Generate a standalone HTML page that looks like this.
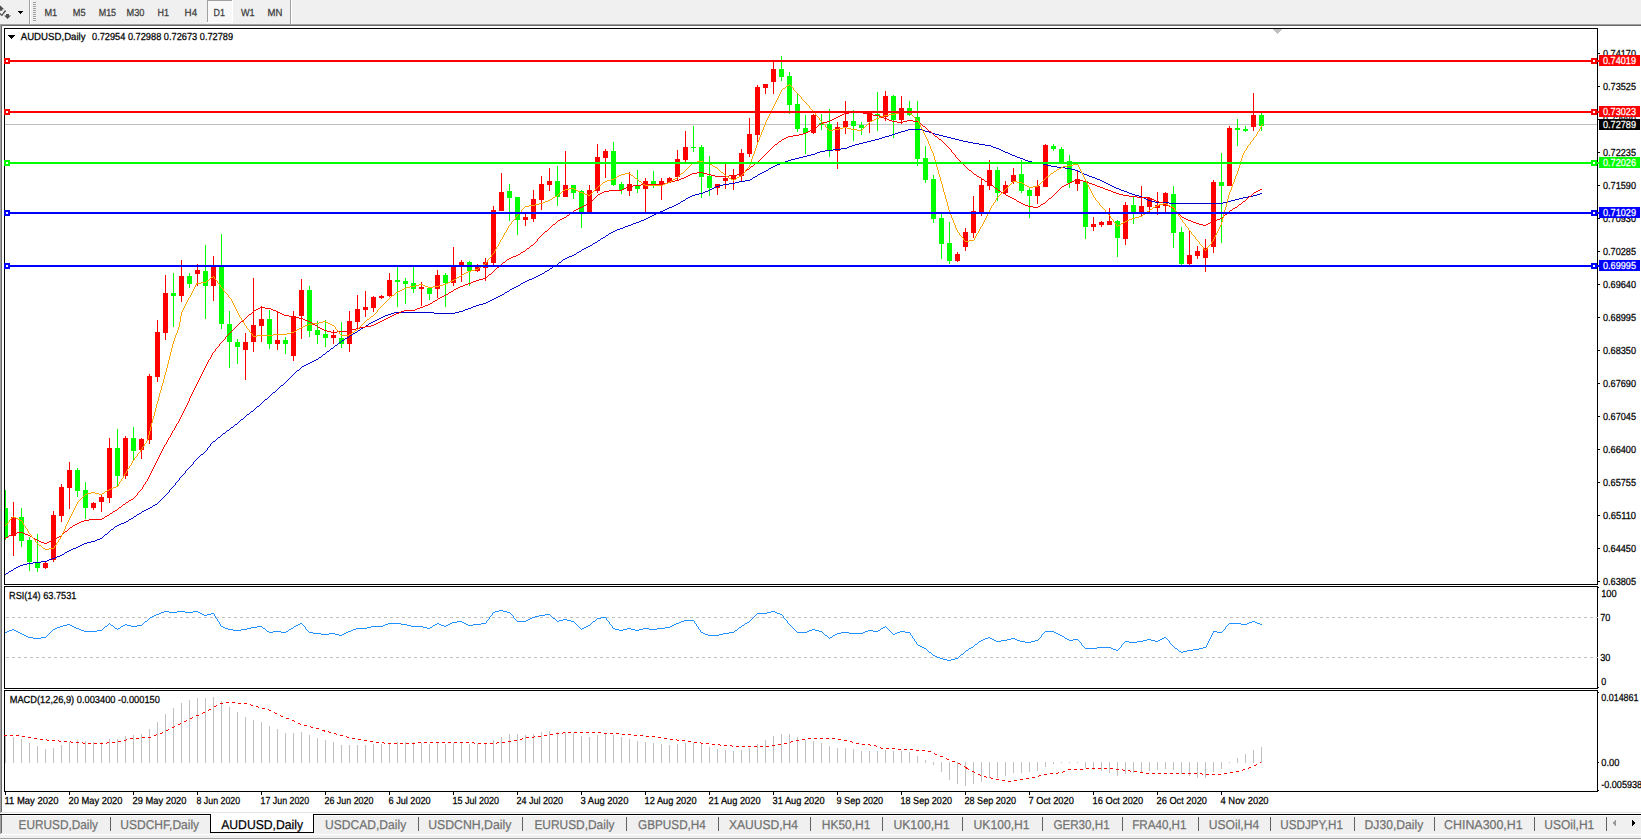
<!DOCTYPE html>
<html><head><meta charset="utf-8"><title>AUDUSD,Daily</title>
<style>html,body{margin:0;padding:0;background:#fff;overflow:hidden}svg{display:block}text{font-family:"Liberation Sans",sans-serif;white-space:pre;text-rendering:geometricPrecision}</style></head>
<body>
<svg width="1641" height="840" viewBox="0 0 1641 840" font-family="'Liberation Sans', sans-serif" shape-rendering="crispEdges">
<rect x="0" y="0" width="1641" height="840" fill="#fff"/>
<rect x="0" y="0" width="1641" height="24" fill="#f0f0f0"/>
<rect x="0" y="24" width="1641" height="1" fill="#a0a0a0"/>
<rect x="0" y="25" width="1641" height="1" fill="#696969"/>
<rect x="0" y="24" width="1" height="789" fill="#a0a0a0"/>
<rect x="1" y="25" width="1" height="787" fill="#696969"/>
<rect x="29" y="0" width="1" height="24" fill="#a0a0a0"/>
<rect x="30" y="0" width="1" height="24" fill="#fff"/>
<rect x="33" y="2" width="3" height="1" fill="#a0a0a0"/>
<rect x="33" y="4" width="3" height="1" fill="#a0a0a0"/>
<rect x="33" y="6" width="3" height="1" fill="#a0a0a0"/>
<rect x="33" y="8" width="3" height="1" fill="#a0a0a0"/>
<rect x="33" y="10" width="3" height="1" fill="#a0a0a0"/>
<rect x="33" y="12" width="3" height="1" fill="#a0a0a0"/>
<rect x="33" y="14" width="3" height="1" fill="#a0a0a0"/>
<rect x="33" y="16" width="3" height="1" fill="#a0a0a0"/>
<rect x="33" y="18" width="3" height="1" fill="#a0a0a0"/>
<rect x="33" y="20" width="3" height="1" fill="#a0a0a0"/>
<g fill="#505050" shape-rendering="auto"><polygon points="0,5.3 4.2,9.2 2.3,9.2 2.3,10.8 0,10.8"/><polygon points="5.0,10.0 6.2,11.0 1.9,16.2 0,14.4 0,12.8 1.7,14.4"/><polygon points="6,14 9,14 9,15.4 11,15.4 7.5,19 4,15.4 6,15.4"/></g>
<rect x="18" y="11" width="5" height="1" fill="#000"/>
<rect x="19" y="12" width="3" height="1" fill="#000"/>
<rect x="20" y="13" width="1" height="1" fill="#000"/>
<rect x="207" y="0" width="26" height="22" fill="#f8f8f8"/>
<rect x="207" y="0" width="25" height="1" fill="#a0a0a0"/>
<rect x="207" y="0" width="1" height="22" fill="#a0a0a0"/>
<rect x="232" y="0" width="1" height="23" fill="#fff"/>
<rect x="207" y="22" width="26" height="1" fill="#fff"/>
<text x="44.4" y="15.6" font-size="10.2" fill="#3c3c3c" stroke="#3c3c3c" stroke-width="0.25" textLength="12.8" lengthAdjust="spacingAndGlyphs">M1</text>
<text x="72.8" y="15.6" font-size="10.2" fill="#3c3c3c" stroke="#3c3c3c" stroke-width="0.25" textLength="12.8" lengthAdjust="spacingAndGlyphs">M5</text>
<text x="98.7" y="15.6" font-size="10.2" fill="#3c3c3c" stroke="#3c3c3c" stroke-width="0.25" textLength="17.4" lengthAdjust="spacingAndGlyphs">M15</text>
<text x="126.5" y="15.6" font-size="10.2" fill="#3c3c3c" stroke="#3c3c3c" stroke-width="0.25" textLength="17.9" lengthAdjust="spacingAndGlyphs">M30</text>
<text x="157.6" y="15.6" font-size="10.2" fill="#3c3c3c" stroke="#3c3c3c" stroke-width="0.25" textLength="11.5" lengthAdjust="spacingAndGlyphs">H1</text>
<text x="184.6" y="15.6" font-size="10.2" fill="#3c3c3c" stroke="#3c3c3c" stroke-width="0.25" textLength="12.5" lengthAdjust="spacingAndGlyphs">H4</text>
<text x="213.5" y="15.6" font-size="10.2" fill="#3c3c3c" stroke="#3c3c3c" stroke-width="0.25" textLength="11.4" lengthAdjust="spacingAndGlyphs">D1</text>
<text x="241" y="15.6" font-size="10.2" fill="#3c3c3c" stroke="#3c3c3c" stroke-width="0.25" textLength="13.7" lengthAdjust="spacingAndGlyphs">W1</text>
<text x="267.5" y="15.6" font-size="10.2" fill="#3c3c3c" stroke="#3c3c3c" stroke-width="0.25" textLength="14.9" lengthAdjust="spacingAndGlyphs">MN</text>
<rect x="290" y="0" width="1" height="24" fill="#a0a0a0"/>
<rect x="291" y="0" width="1" height="24" fill="#fff"/>
<rect x="4" y="28" width="1594" height="1" fill="#000"/>
<rect x="4" y="584" width="1594" height="1" fill="#000"/>
<rect x="4" y="28" width="1" height="557" fill="#000"/>
<rect x="1597" y="28" width="1" height="557" fill="#000"/>
<rect x="4" y="586" width="1594" height="1" fill="#000"/>
<rect x="4" y="688" width="1594" height="1" fill="#000"/>
<rect x="4" y="586" width="1" height="103" fill="#000"/>
<rect x="1597" y="586" width="1" height="103" fill="#000"/>
<rect x="4" y="690" width="1594" height="1" fill="#000"/>
<rect x="4" y="791" width="1594" height="1" fill="#000"/>
<rect x="4" y="690" width="1" height="102" fill="#000"/>
<rect x="1597" y="690" width="1" height="102" fill="#000"/>
<defs><clipPath id="cm"><rect x="5" y="29" width="1592" height="555"/></clipPath></defs>
<rect x="8" y="35" width="7" height="1" fill="#000"/>
<rect x="9" y="36" width="5" height="1" fill="#000"/>
<rect x="10" y="37" width="3" height="1" fill="#000"/>
<rect x="11" y="38" width="1" height="1" fill="#000"/>
<text x="20.7" y="40" font-size="10.2" fill="#000" stroke="#000" stroke-width="0.25" textLength="64.9" lengthAdjust="spacingAndGlyphs">AUDUSD,Daily</text>
<text x="92" y="40" font-size="10.2" fill="#000" stroke="#000" stroke-width="0.25" textLength="141.1" lengthAdjust="spacingAndGlyphs">0.72954 0.72988 0.72673 0.72789</text>
<rect x="1273" y="29" width="9" height="1" fill="#c0c0c0"/>
<rect x="1274" y="30" width="7" height="1" fill="#c0c0c0"/>
<rect x="1275" y="31" width="5" height="1" fill="#c0c0c0"/>
<rect x="1276" y="32" width="3" height="1" fill="#c0c0c0"/>
<rect x="1277" y="33" width="1" height="1" fill="#c0c0c0"/>
<rect x="1598" y="53" width="2" height="1" fill="#000"/>
<text x="1603" y="57" font-size="10.2" fill="#000" stroke="#000" stroke-width="0.25" textLength="33" lengthAdjust="spacingAndGlyphs">0.74170</text>
<rect x="1598" y="86" width="2" height="1" fill="#000"/>
<text x="1603" y="90" font-size="10.2" fill="#000" stroke="#000" stroke-width="0.25" textLength="33" lengthAdjust="spacingAndGlyphs">0.73525</text>
<rect x="1598" y="119" width="2" height="1" fill="#000"/>
<text x="1603" y="123" font-size="10.2" fill="#000" stroke="#000" stroke-width="0.25" textLength="33" lengthAdjust="spacingAndGlyphs">0.72880</text>
<rect x="1598" y="152" width="2" height="1" fill="#000"/>
<text x="1603" y="156" font-size="10.2" fill="#000" stroke="#000" stroke-width="0.25" textLength="33" lengthAdjust="spacingAndGlyphs">0.72235</text>
<rect x="1598" y="185" width="2" height="1" fill="#000"/>
<text x="1603" y="189" font-size="10.2" fill="#000" stroke="#000" stroke-width="0.25" textLength="33" lengthAdjust="spacingAndGlyphs">0.71590</text>
<rect x="1598" y="218" width="2" height="1" fill="#000"/>
<text x="1603" y="222" font-size="10.2" fill="#000" stroke="#000" stroke-width="0.25" textLength="33" lengthAdjust="spacingAndGlyphs">0.70930</text>
<rect x="1598" y="251" width="2" height="1" fill="#000"/>
<text x="1603" y="255" font-size="10.2" fill="#000" stroke="#000" stroke-width="0.25" textLength="33" lengthAdjust="spacingAndGlyphs">0.70285</text>
<rect x="1598" y="284" width="2" height="1" fill="#000"/>
<text x="1603" y="288" font-size="10.2" fill="#000" stroke="#000" stroke-width="0.25" textLength="33" lengthAdjust="spacingAndGlyphs">0.69640</text>
<rect x="1598" y="317" width="2" height="1" fill="#000"/>
<text x="1603" y="321" font-size="10.2" fill="#000" stroke="#000" stroke-width="0.25" textLength="33" lengthAdjust="spacingAndGlyphs">0.68995</text>
<rect x="1598" y="350" width="2" height="1" fill="#000"/>
<text x="1603" y="354" font-size="10.2" fill="#000" stroke="#000" stroke-width="0.25" textLength="33" lengthAdjust="spacingAndGlyphs">0.68350</text>
<rect x="1598" y="383" width="2" height="1" fill="#000"/>
<text x="1603" y="387" font-size="10.2" fill="#000" stroke="#000" stroke-width="0.25" textLength="33" lengthAdjust="spacingAndGlyphs">0.67690</text>
<rect x="1598" y="416" width="2" height="1" fill="#000"/>
<text x="1603" y="420" font-size="10.2" fill="#000" stroke="#000" stroke-width="0.25" textLength="33" lengthAdjust="spacingAndGlyphs">0.67045</text>
<rect x="1598" y="449" width="2" height="1" fill="#000"/>
<text x="1603" y="453" font-size="10.2" fill="#000" stroke="#000" stroke-width="0.25" textLength="33" lengthAdjust="spacingAndGlyphs">0.66400</text>
<rect x="1598" y="482" width="2" height="1" fill="#000"/>
<text x="1603" y="486" font-size="10.2" fill="#000" stroke="#000" stroke-width="0.25" textLength="33" lengthAdjust="spacingAndGlyphs">0.65755</text>
<rect x="1598" y="515" width="2" height="1" fill="#000"/>
<text x="1603" y="519" font-size="10.2" fill="#000" stroke="#000" stroke-width="0.25" textLength="33" lengthAdjust="spacingAndGlyphs">0.65110</text>
<rect x="1598" y="548" width="2" height="1" fill="#000"/>
<text x="1603" y="552" font-size="10.2" fill="#000" stroke="#000" stroke-width="0.25" textLength="33" lengthAdjust="spacingAndGlyphs">0.64450</text>
<rect x="1598" y="581" width="2" height="1" fill="#000"/>
<text x="1603" y="585" font-size="10.2" fill="#000" stroke="#000" stroke-width="0.25" textLength="33" lengthAdjust="spacingAndGlyphs">0.63805</text>
<g clip-path="url(#cm)">
<rect x="5" y="124" width="1592" height="1" fill="#c0c0c0"/>
<rect x="5" y="490" width="1" height="50" fill="#0f0"/>
<rect x="3" y="508" width="5" height="29" fill="#0f0"/>
<rect x="13" y="502" width="1" height="54" fill="#f00"/>
<rect x="11" y="517" width="5" height="19" fill="#f00"/>
<rect x="21" y="508" width="1" height="39" fill="#0f0"/>
<rect x="19" y="517" width="5" height="24" fill="#0f0"/>
<rect x="29" y="537" width="1" height="34" fill="#0f0"/>
<rect x="27" y="540" width="5" height="22" fill="#0f0"/>
<rect x="37" y="534" width="1" height="38" fill="#0f0"/>
<rect x="35" y="562" width="5" height="6" fill="#0f0"/>
<rect x="45" y="562" width="1" height="7" fill="#f00"/>
<rect x="43" y="563" width="5" height="5" fill="#f00"/>
<rect x="53" y="511" width="1" height="51" fill="#f00"/>
<rect x="51" y="515" width="5" height="45" fill="#f00"/>
<rect x="61" y="484" width="1" height="38" fill="#f00"/>
<rect x="59" y="487" width="5" height="29" fill="#f00"/>
<rect x="69" y="462" width="1" height="47" fill="#f00"/>
<rect x="67" y="470" width="5" height="18" fill="#f00"/>
<rect x="77" y="468" width="1" height="29" fill="#0f0"/>
<rect x="75" y="470" width="5" height="21" fill="#0f0"/>
<rect x="85" y="482" width="1" height="37" fill="#0f0"/>
<rect x="83" y="490" width="5" height="18" fill="#0f0"/>
<rect x="93" y="502" width="1" height="8" fill="#f00"/>
<rect x="91" y="503" width="5" height="5" fill="#f00"/>
<rect x="101" y="495" width="1" height="17" fill="#f00"/>
<rect x="99" y="497" width="5" height="5" fill="#f00"/>
<rect x="109" y="438" width="1" height="65" fill="#f00"/>
<rect x="107" y="448" width="5" height="50" fill="#f00"/>
<rect x="117" y="429" width="1" height="57" fill="#0f0"/>
<rect x="115" y="448" width="5" height="28" fill="#0f0"/>
<rect x="125" y="436" width="1" height="43" fill="#f00"/>
<rect x="123" y="438" width="5" height="38" fill="#f00"/>
<rect x="133" y="427" width="1" height="34" fill="#0f0"/>
<rect x="131" y="438" width="5" height="13" fill="#0f0"/>
<rect x="141" y="438" width="1" height="21" fill="#f00"/>
<rect x="139" y="439" width="5" height="11" fill="#f00"/>
<rect x="149" y="374" width="1" height="70" fill="#f00"/>
<rect x="147" y="376" width="5" height="64" fill="#f00"/>
<rect x="157" y="320" width="1" height="62" fill="#f00"/>
<rect x="155" y="332" width="5" height="45" fill="#f00"/>
<rect x="165" y="275" width="1" height="65" fill="#f00"/>
<rect x="163" y="293" width="5" height="40" fill="#f00"/>
<rect x="173" y="273" width="1" height="54" fill="#0f0"/>
<rect x="171" y="293" width="5" height="3" fill="#0f0"/>
<rect x="181" y="260" width="1" height="42" fill="#f00"/>
<rect x="179" y="276" width="5" height="20" fill="#f00"/>
<rect x="189" y="273" width="1" height="15" fill="#0f0"/>
<rect x="187" y="276" width="5" height="8" fill="#0f0"/>
<rect x="197" y="264" width="1" height="22" fill="#f00"/>
<rect x="195" y="270" width="5" height="4" fill="#f00"/>
<rect x="205" y="245" width="1" height="74" fill="#0f0"/>
<rect x="203" y="271" width="5" height="15" fill="#0f0"/>
<rect x="213" y="256" width="1" height="45" fill="#f00"/>
<rect x="211" y="267" width="5" height="19" fill="#f00"/>
<rect x="221" y="234" width="1" height="95" fill="#0f0"/>
<rect x="219" y="267" width="5" height="57" fill="#0f0"/>
<rect x="229" y="311" width="1" height="57" fill="#0f0"/>
<rect x="227" y="324" width="5" height="18" fill="#0f0"/>
<rect x="237" y="339" width="1" height="25" fill="#0f0"/>
<rect x="235" y="342" width="5" height="5" fill="#0f0"/>
<rect x="245" y="333" width="1" height="47" fill="#f00"/>
<rect x="243" y="342" width="5" height="8" fill="#f00"/>
<rect x="253" y="278" width="1" height="74" fill="#f00"/>
<rect x="251" y="325" width="5" height="17" fill="#f00"/>
<rect x="261" y="306" width="1" height="36" fill="#f00"/>
<rect x="259" y="319" width="5" height="7" fill="#f00"/>
<rect x="269" y="310" width="1" height="39" fill="#0f0"/>
<rect x="267" y="319" width="5" height="25" fill="#0f0"/>
<rect x="277" y="312" width="1" height="38" fill="#f00"/>
<rect x="275" y="340" width="5" height="4" fill="#f00"/>
<rect x="285" y="337" width="1" height="17" fill="#0f0"/>
<rect x="283" y="340" width="5" height="4" fill="#0f0"/>
<rect x="293" y="311" width="1" height="50" fill="#f00"/>
<rect x="291" y="316" width="5" height="40" fill="#f00"/>
<rect x="301" y="279" width="1" height="60" fill="#f00"/>
<rect x="299" y="290" width="5" height="26" fill="#f00"/>
<rect x="309" y="286" width="1" height="51" fill="#0f0"/>
<rect x="307" y="290" width="5" height="41" fill="#0f0"/>
<rect x="317" y="321" width="1" height="23" fill="#0f0"/>
<rect x="315" y="330" width="5" height="5" fill="#0f0"/>
<rect x="325" y="320" width="1" height="27" fill="#0f0"/>
<rect x="323" y="334" width="5" height="4" fill="#0f0"/>
<rect x="333" y="330" width="1" height="14" fill="#f00"/>
<rect x="331" y="335" width="5" height="3" fill="#f00"/>
<rect x="341" y="322" width="1" height="26" fill="#0f0"/>
<rect x="339" y="338" width="5" height="6" fill="#0f0"/>
<rect x="349" y="311" width="1" height="41" fill="#f00"/>
<rect x="347" y="321" width="5" height="23" fill="#f00"/>
<rect x="357" y="295" width="1" height="33" fill="#f00"/>
<rect x="355" y="309" width="5" height="13" fill="#f00"/>
<rect x="365" y="291" width="1" height="26" fill="#f00"/>
<rect x="363" y="307" width="5" height="3" fill="#f00"/>
<rect x="373" y="296" width="1" height="16" fill="#f00"/>
<rect x="371" y="297" width="5" height="11" fill="#f00"/>
<rect x="381" y="295" width="1" height="4" fill="#f00"/>
<rect x="379" y="296" width="5" height="2" fill="#f00"/>
<rect x="389" y="273" width="1" height="24" fill="#f00"/>
<rect x="387" y="280" width="5" height="16" fill="#f00"/>
<rect x="397" y="267" width="1" height="40" fill="#0f0"/>
<rect x="395" y="280" width="5" height="2" fill="#0f0"/>
<rect x="405" y="278" width="1" height="26" fill="#0f0"/>
<rect x="403" y="281" width="5" height="3" fill="#0f0"/>
<rect x="413" y="267" width="1" height="26" fill="#0f0"/>
<rect x="411" y="283" width="5" height="6" fill="#0f0"/>
<rect x="421" y="282" width="1" height="24" fill="#f00"/>
<rect x="419" y="287" width="5" height="2" fill="#f00"/>
<rect x="429" y="287" width="1" height="13" fill="#0f0"/>
<rect x="427" y="288" width="5" height="6" fill="#0f0"/>
<rect x="437" y="270" width="1" height="28" fill="#f00"/>
<rect x="435" y="275" width="5" height="14" fill="#f00"/>
<rect x="445" y="273" width="1" height="34" fill="#0f0"/>
<rect x="443" y="275" width="5" height="8" fill="#0f0"/>
<rect x="453" y="247" width="1" height="39" fill="#f00"/>
<rect x="451" y="266" width="5" height="17" fill="#f00"/>
<rect x="461" y="260" width="1" height="22" fill="#f00"/>
<rect x="459" y="262" width="5" height="4" fill="#f00"/>
<rect x="469" y="261" width="1" height="25" fill="#0f0"/>
<rect x="467" y="262" width="5" height="9" fill="#0f0"/>
<rect x="477" y="264" width="1" height="8" fill="#f00"/>
<rect x="475" y="267" width="5" height="4" fill="#f00"/>
<rect x="485" y="258" width="1" height="23" fill="#f00"/>
<rect x="483" y="262" width="5" height="6" fill="#f00"/>
<rect x="493" y="206" width="1" height="59" fill="#f00"/>
<rect x="491" y="210" width="5" height="53" fill="#f00"/>
<rect x="501" y="173" width="1" height="38" fill="#f00"/>
<rect x="499" y="192" width="5" height="19" fill="#f00"/>
<rect x="509" y="184" width="1" height="37" fill="#0f0"/>
<rect x="507" y="191" width="5" height="7" fill="#0f0"/>
<rect x="517" y="197" width="1" height="38" fill="#0f0"/>
<rect x="515" y="197" width="5" height="23" fill="#0f0"/>
<rect x="525" y="214" width="1" height="12" fill="#f00"/>
<rect x="523" y="217" width="5" height="3" fill="#f00"/>
<rect x="533" y="190" width="1" height="32" fill="#f00"/>
<rect x="531" y="199" width="5" height="20" fill="#f00"/>
<rect x="541" y="176" width="1" height="34" fill="#f00"/>
<rect x="539" y="184" width="5" height="16" fill="#f00"/>
<rect x="549" y="168" width="1" height="23" fill="#f00"/>
<rect x="547" y="181" width="5" height="4" fill="#f00"/>
<rect x="557" y="166" width="1" height="40" fill="#0f0"/>
<rect x="555" y="181" width="5" height="16" fill="#0f0"/>
<rect x="565" y="151" width="1" height="46" fill="#f00"/>
<rect x="563" y="185" width="5" height="12" fill="#f00"/>
<rect x="573" y="185" width="1" height="14" fill="#0f0"/>
<rect x="571" y="185" width="5" height="8" fill="#0f0"/>
<rect x="581" y="190" width="1" height="38" fill="#0f0"/>
<rect x="579" y="191" width="5" height="21" fill="#0f0"/>
<rect x="589" y="185" width="1" height="27" fill="#f00"/>
<rect x="587" y="190" width="5" height="22" fill="#f00"/>
<rect x="597" y="144" width="1" height="49" fill="#f00"/>
<rect x="595" y="157" width="5" height="34" fill="#f00"/>
<rect x="605" y="149" width="1" height="29" fill="#f00"/>
<rect x="603" y="151" width="5" height="7" fill="#f00"/>
<rect x="613" y="142" width="1" height="44" fill="#0f0"/>
<rect x="611" y="151" width="5" height="34" fill="#0f0"/>
<rect x="621" y="182" width="1" height="12" fill="#0f0"/>
<rect x="619" y="184" width="5" height="6" fill="#0f0"/>
<rect x="629" y="172" width="1" height="24" fill="#f00"/>
<rect x="627" y="184" width="5" height="7" fill="#f00"/>
<rect x="637" y="170" width="1" height="23" fill="#0f0"/>
<rect x="635" y="185" width="5" height="4" fill="#0f0"/>
<rect x="645" y="178" width="1" height="34" fill="#f00"/>
<rect x="643" y="181" width="5" height="8" fill="#f00"/>
<rect x="653" y="171" width="1" height="17" fill="#0f0"/>
<rect x="651" y="181" width="5" height="3" fill="#0f0"/>
<rect x="661" y="178" width="1" height="22" fill="#f00"/>
<rect x="659" y="181" width="5" height="3" fill="#f00"/>
<rect x="669" y="177" width="1" height="5" fill="#f00"/>
<rect x="667" y="178" width="5" height="4" fill="#f00"/>
<rect x="677" y="150" width="1" height="30" fill="#f00"/>
<rect x="675" y="159" width="5" height="18" fill="#f00"/>
<rect x="685" y="131" width="1" height="31" fill="#f00"/>
<rect x="683" y="147" width="5" height="13" fill="#f00"/>
<rect x="693" y="126" width="1" height="26" fill="#0f0"/>
<rect x="691" y="147" width="5" height="1" fill="#0f0"/>
<rect x="701" y="145" width="1" height="53" fill="#0f0"/>
<rect x="699" y="147" width="5" height="30" fill="#0f0"/>
<rect x="709" y="156" width="1" height="40" fill="#0f0"/>
<rect x="707" y="176" width="5" height="12" fill="#0f0"/>
<rect x="717" y="184" width="1" height="11" fill="#f00"/>
<rect x="715" y="184" width="5" height="4" fill="#f00"/>
<rect x="725" y="164" width="1" height="25" fill="#f00"/>
<rect x="723" y="178" width="5" height="3" fill="#f00"/>
<rect x="733" y="169" width="1" height="21" fill="#f00"/>
<rect x="731" y="175" width="5" height="4" fill="#f00"/>
<rect x="741" y="149" width="1" height="32" fill="#f00"/>
<rect x="739" y="153" width="5" height="23" fill="#f00"/>
<rect x="749" y="118" width="1" height="39" fill="#f00"/>
<rect x="747" y="134" width="5" height="20" fill="#f00"/>
<rect x="757" y="85" width="1" height="59" fill="#f00"/>
<rect x="755" y="87" width="5" height="48" fill="#f00"/>
<rect x="765" y="84" width="1" height="10" fill="#f00"/>
<rect x="763" y="84" width="5" height="4" fill="#f00"/>
<rect x="773" y="62" width="1" height="32" fill="#f00"/>
<rect x="771" y="69" width="5" height="13" fill="#f00"/>
<rect x="781" y="56" width="1" height="25" fill="#0f0"/>
<rect x="779" y="69" width="5" height="8" fill="#0f0"/>
<rect x="789" y="72" width="1" height="42" fill="#0f0"/>
<rect x="787" y="76" width="5" height="29" fill="#0f0"/>
<rect x="797" y="93" width="1" height="39" fill="#0f0"/>
<rect x="795" y="104" width="5" height="25" fill="#0f0"/>
<rect x="805" y="115" width="1" height="39" fill="#0f0"/>
<rect x="803" y="128" width="5" height="5" fill="#0f0"/>
<rect x="813" y="114" width="1" height="20" fill="#f00"/>
<rect x="811" y="115" width="5" height="18" fill="#f00"/>
<rect x="821" y="114" width="1" height="16" fill="#0f0"/>
<rect x="819" y="123" width="5" height="2" fill="#0f0"/>
<rect x="829" y="109" width="1" height="48" fill="#0f0"/>
<rect x="827" y="124" width="5" height="26" fill="#0f0"/>
<rect x="837" y="122" width="1" height="47" fill="#f00"/>
<rect x="835" y="127" width="5" height="24" fill="#f00"/>
<rect x="845" y="101" width="1" height="33" fill="#f00"/>
<rect x="843" y="121" width="5" height="6" fill="#f00"/>
<rect x="853" y="110" width="1" height="31" fill="#0f0"/>
<rect x="851" y="121" width="5" height="5" fill="#0f0"/>
<rect x="861" y="122" width="1" height="13" fill="#0f0"/>
<rect x="859" y="125" width="5" height="3" fill="#0f0"/>
<rect x="869" y="112" width="1" height="21" fill="#f00"/>
<rect x="867" y="113" width="5" height="9" fill="#f00"/>
<rect x="877" y="92" width="1" height="39" fill="#0f0"/>
<rect x="875" y="114" width="5" height="2" fill="#0f0"/>
<rect x="885" y="91" width="1" height="30" fill="#f00"/>
<rect x="883" y="96" width="5" height="21" fill="#f00"/>
<rect x="893" y="95" width="1" height="43" fill="#0f0"/>
<rect x="891" y="96" width="5" height="24" fill="#0f0"/>
<rect x="901" y="96" width="1" height="28" fill="#f00"/>
<rect x="899" y="108" width="5" height="12" fill="#f00"/>
<rect x="909" y="101" width="1" height="15" fill="#0f0"/>
<rect x="907" y="108" width="5" height="7" fill="#0f0"/>
<rect x="917" y="101" width="1" height="65" fill="#0f0"/>
<rect x="915" y="117" width="5" height="42" fill="#0f0"/>
<rect x="925" y="146" width="1" height="37" fill="#0f0"/>
<rect x="923" y="158" width="5" height="22" fill="#0f0"/>
<rect x="933" y="175" width="1" height="48" fill="#0f0"/>
<rect x="931" y="179" width="5" height="40" fill="#0f0"/>
<rect x="941" y="214" width="1" height="45" fill="#0f0"/>
<rect x="939" y="218" width="5" height="26" fill="#0f0"/>
<rect x="949" y="222" width="1" height="42" fill="#0f0"/>
<rect x="947" y="243" width="5" height="18" fill="#0f0"/>
<rect x="957" y="252" width="1" height="10" fill="#f00"/>
<rect x="955" y="254" width="5" height="7" fill="#f00"/>
<rect x="965" y="228" width="1" height="23" fill="#f00"/>
<rect x="963" y="232" width="5" height="15" fill="#f00"/>
<rect x="973" y="196" width="1" height="42" fill="#f00"/>
<rect x="971" y="211" width="5" height="22" fill="#f00"/>
<rect x="981" y="178" width="1" height="38" fill="#f00"/>
<rect x="979" y="185" width="5" height="27" fill="#f00"/>
<rect x="989" y="160" width="1" height="30" fill="#f00"/>
<rect x="987" y="170" width="5" height="16" fill="#f00"/>
<rect x="997" y="167" width="1" height="34" fill="#0f0"/>
<rect x="995" y="170" width="5" height="23" fill="#0f0"/>
<rect x="1005" y="181" width="1" height="13" fill="#f00"/>
<rect x="1003" y="185" width="5" height="8" fill="#f00"/>
<rect x="1013" y="168" width="1" height="16" fill="#f00"/>
<rect x="1011" y="175" width="5" height="7" fill="#f00"/>
<rect x="1021" y="160" width="1" height="33" fill="#0f0"/>
<rect x="1019" y="174" width="5" height="17" fill="#0f0"/>
<rect x="1029" y="188" width="1" height="30" fill="#0f0"/>
<rect x="1027" y="190" width="5" height="6" fill="#0f0"/>
<rect x="1037" y="180" width="1" height="24" fill="#f00"/>
<rect x="1035" y="186" width="5" height="10" fill="#f00"/>
<rect x="1045" y="144" width="1" height="43" fill="#f00"/>
<rect x="1043" y="145" width="5" height="42" fill="#f00"/>
<rect x="1053" y="144" width="1" height="7" fill="#0f0"/>
<rect x="1051" y="146" width="5" height="3" fill="#0f0"/>
<rect x="1061" y="147" width="1" height="16" fill="#0f0"/>
<rect x="1059" y="149" width="5" height="14" fill="#0f0"/>
<rect x="1069" y="155" width="1" height="33" fill="#0f0"/>
<rect x="1067" y="161" width="5" height="22" fill="#0f0"/>
<rect x="1077" y="170" width="1" height="21" fill="#f00"/>
<rect x="1075" y="179" width="5" height="5" fill="#f00"/>
<rect x="1085" y="181" width="1" height="58" fill="#0f0"/>
<rect x="1083" y="181" width="5" height="46" fill="#0f0"/>
<rect x="1093" y="217" width="1" height="14" fill="#f00"/>
<rect x="1091" y="224" width="5" height="3" fill="#f00"/>
<rect x="1101" y="221" width="1" height="6" fill="#f00"/>
<rect x="1099" y="222" width="5" height="3" fill="#f00"/>
<rect x="1109" y="208" width="1" height="17" fill="#f00"/>
<rect x="1107" y="221" width="5" height="4" fill="#f00"/>
<rect x="1117" y="220" width="1" height="37" fill="#0f0"/>
<rect x="1115" y="221" width="5" height="17" fill="#0f0"/>
<rect x="1125" y="202" width="1" height="43" fill="#f00"/>
<rect x="1123" y="205" width="5" height="34" fill="#f00"/>
<rect x="1133" y="197" width="1" height="27" fill="#0f0"/>
<rect x="1131" y="205" width="5" height="7" fill="#0f0"/>
<rect x="1141" y="186" width="1" height="30" fill="#f00"/>
<rect x="1139" y="206" width="5" height="6" fill="#f00"/>
<rect x="1149" y="197" width="1" height="15" fill="#f00"/>
<rect x="1147" y="198" width="5" height="9" fill="#f00"/>
<rect x="1157" y="192" width="1" height="23" fill="#f00"/>
<rect x="1155" y="205" width="5" height="3" fill="#f00"/>
<rect x="1165" y="192" width="1" height="20" fill="#f00"/>
<rect x="1163" y="193" width="5" height="13" fill="#f00"/>
<rect x="1173" y="186" width="1" height="62" fill="#0f0"/>
<rect x="1171" y="194" width="5" height="39" fill="#0f0"/>
<rect x="1181" y="227" width="1" height="38" fill="#0f0"/>
<rect x="1179" y="232" width="5" height="32" fill="#0f0"/>
<rect x="1189" y="231" width="1" height="34" fill="#f00"/>
<rect x="1187" y="255" width="5" height="9" fill="#f00"/>
<rect x="1197" y="246" width="1" height="13" fill="#f00"/>
<rect x="1195" y="251" width="5" height="5" fill="#f00"/>
<rect x="1205" y="239" width="1" height="33" fill="#f00"/>
<rect x="1203" y="248" width="5" height="10" fill="#f00"/>
<rect x="1213" y="180" width="1" height="73" fill="#f00"/>
<rect x="1211" y="182" width="5" height="65" fill="#f00"/>
<rect x="1221" y="153" width="1" height="90" fill="#0f0"/>
<rect x="1219" y="182" width="5" height="4" fill="#0f0"/>
<rect x="1229" y="126" width="1" height="60" fill="#f00"/>
<rect x="1227" y="128" width="5" height="58" fill="#f00"/>
<rect x="1237" y="119" width="1" height="27" fill="#0f0"/>
<rect x="1235" y="128" width="5" height="2" fill="#0f0"/>
<rect x="1245" y="126" width="1" height="6" fill="#0f0"/>
<rect x="1243" y="129" width="5" height="2" fill="#0f0"/>
<rect x="1253" y="93" width="1" height="38" fill="#f00"/>
<rect x="1251" y="115" width="5" height="12" fill="#f00"/>
<rect x="1261" y="113" width="1" height="18" fill="#0f0"/>
<rect x="1259" y="115" width="5" height="11" fill="#0f0"/>
<path d="M5 574h1v1h-1zM6 573h2v1h-2zM8 572h1v1h-1zM9 571h2v1h-2zM11 570h2v1h-2zM13 569h1v1h-1zM14 568h2v1h-2zM16 567h2v1h-2zM18 566h2v1h-2zM20 565h3v1h-3zM23 564h4v1h-4zM27 563h6v1h-6zM33 562h8v1h-8zM41 561h6v1h-6zM47 560h2v1h-2zM49 559h3v1h-3zM52 558h3v1h-3zM55 557h2v1h-2zM57 556h3v1h-3zM60 555h2v1h-2zM62 554h2v1h-2zM64 553h1v1h-1zM65 552h2v1h-2zM67 551h2v1h-2zM69 550h2v1h-2zM71 549h2v1h-2zM73 548h3v1h-3zM76 547h2v1h-2zM78 546h2v1h-2zM80 545h2v1h-2zM82 544h2v1h-2zM84 543h3v1h-3zM87 542h4v1h-4zM91 541h4v1h-4zM95 540h2v1h-2zM97 539h3v1h-3zM100 538h2v1h-2zM102 537h1v1h-1zM103 536h1v1h-1zM104 535h1v1h-1zM105 534h2v1h-2zM107 533h1v1h-1zM108 532h1v1h-1zM109 531h1v1h-1zM110 530h1v1h-1zM111 529h2v1h-2zM113 528h1v1h-1zM114 527h1v1h-1zM115 526h2v1h-2zM117 525h2v1h-2zM119 524h2v1h-2zM121 523h3v1h-3zM124 522h2v1h-2zM126 521h2v1h-2zM128 520h1v1h-1zM129 519h2v1h-2zM131 518h2v1h-2zM133 517h1v1h-1zM134 516h2v1h-2zM136 515h1v1h-1zM137 514h2v1h-2zM139 513h2v1h-2zM141 512h1v1h-1zM142 511h2v1h-2zM144 510h2v1h-2zM146 509h2v1h-2zM148 508h2v1h-2zM150 507h2v1h-2zM152 506h1v1h-1zM153 505h2v1h-2zM155 504h2v1h-2zM157 503h1v1h-1zM158 502h1v1h-1zM159 501h1v1h-1zM160 500h1v1h-1zM161 499h1v1h-1zM162 498h1v1h-1zM163 497h1v1h-1zM164 496h1v1h-1zM165 495h1v1h-1zM166 494h1v1h-1zM167 493h1v1h-1zM168 492h1v1h-1zM169 490h1v2h-1zM170 489h1v1h-1zM171 488h1v1h-1zM172 487h1v1h-1zM173 486h1v1h-1zM174 485h1v1h-1zM175 483h1v2h-1zM176 482h1v1h-1zM177 481h1v1h-1zM178 480h1v1h-1zM179 478h1v2h-1zM180 477h1v1h-1zM181 476h1v1h-1zM182 475h1v1h-1zM183 474h1v1h-1zM184 473h1v1h-1zM185 471h1v2h-1zM186 470h1v1h-1zM187 469h1v1h-1zM188 468h1v1h-1zM189 467h1v1h-1zM190 466h1v1h-1zM191 465h1v1h-1zM192 464h1v1h-1zM193 462h1v2h-1zM194 461h1v1h-1zM195 460h1v1h-1zM196 459h1v1h-1zM197 458h1v1h-1zM198 457h1v1h-1zM199 456h1v1h-1zM200 455h1v1h-1zM201 454h2v1h-2zM203 453h1v1h-1zM204 452h1v1h-1zM205 451h1v1h-1zM206 450h1v1h-1zM207 448h1v2h-1zM208 447h1v1h-1zM209 446h1v1h-1zM210 444h1v2h-1zM211 443h1v1h-1zM212 442h1v1h-1zM213 441h2v1h-2zM215 440h1v1h-1zM216 439h1v1h-1zM217 438h1v1h-1zM218 437h2v1h-2zM220 436h1v1h-1zM221 435h1v1h-1zM222 434h1v1h-1zM223 433h2v1h-2zM225 432h1v1h-1zM226 431h1v1h-1zM227 430h2v1h-2zM229 429h1v1h-1zM230 428h1v1h-1zM231 427h2v1h-2zM233 426h1v1h-1zM234 425h1v1h-1zM235 424h2v1h-2zM237 423h1v1h-1zM238 422h1v1h-1zM239 421h1v1h-1zM240 420h1v1h-1zM241 419h2v1h-2zM243 418h1v1h-1zM244 417h1v1h-1zM245 416h1v1h-1zM246 415h1v1h-1zM247 414h2v1h-2zM249 413h1v1h-1zM250 412h1v1h-1zM251 411h2v1h-2zM253 410h1v1h-1zM254 409h1v1h-1zM255 408h1v1h-1zM256 407h1v1h-1zM257 406h2v1h-2zM259 405h1v1h-1zM260 404h1v1h-1zM261 403h1v1h-1zM262 402h1v1h-1zM263 401h1v1h-1zM264 400h1v1h-1zM265 399h2v1h-2zM267 398h1v1h-1zM268 397h1v1h-1zM269 396h1v1h-1zM270 395h1v1h-1zM271 394h1v1h-1zM272 393h1v1h-1zM273 392h2v1h-2zM275 391h1v1h-1zM276 390h1v1h-1zM277 389h1v1h-1zM278 388h1v1h-1zM279 387h1v1h-1zM280 386h1v1h-1zM281 385h2v1h-2zM283 384h1v1h-1zM284 383h1v1h-1zM285 382h1v1h-1zM286 381h1v1h-1zM287 380h1v1h-1zM288 379h1v1h-1zM289 378h1v1h-1zM290 377h1v1h-1zM291 376h1v1h-1zM292 375h1v1h-1zM293 374h1v1h-1zM294 373h1v1h-1zM295 372h1v1h-1zM296 371h1v1h-1zM297 370h2v1h-2zM299 369h1v1h-1zM300 368h1v1h-1zM301 367h1v1h-1zM302 366h2v1h-2zM304 365h2v1h-2zM306 364h2v1h-2zM308 363h2v1h-2zM310 362h2v1h-2zM312 361h2v1h-2zM314 360h2v1h-2zM316 359h2v1h-2zM318 358h1v1h-1zM319 357h2v1h-2zM321 356h1v1h-1zM322 355h1v1h-1zM323 354h2v1h-2zM325 353h1v1h-1zM326 352h1v1h-1zM327 351h2v1h-2zM329 350h1v1h-1zM330 349h1v1h-1zM331 348h2v1h-2zM333 347h1v1h-1zM334 346h1v1h-1zM335 345h2v1h-2zM337 344h1v1h-1zM338 343h1v1h-1zM339 342h2v1h-2zM341 341h1v1h-1zM342 340h2v1h-2zM344 339h1v1h-1zM345 338h2v1h-2zM347 337h2v1h-2zM349 336h1v1h-1zM350 335h2v1h-2zM352 334h1v1h-1zM353 333h2v1h-2zM355 332h2v1h-2zM357 331h1v1h-1zM358 330h2v1h-2zM360 329h1v1h-1zM361 328h2v1h-2zM363 327h2v1h-2zM365 326h1v1h-1zM366 325h2v1h-2zM368 324h1v1h-1zM369 323h2v1h-2zM371 322h2v1h-2zM373 321h2v1h-2zM375 320h2v1h-2zM377 319h2v1h-2zM379 318h2v1h-2zM381 317h2v1h-2zM383 316h2v1h-2zM385 315h3v1h-3zM388 314h3v1h-3zM391 313h3v1h-3zM394 312h40v1h-40zM434 313h21v1h-21zM455 312h4v1h-4zM459 311h4v1h-4zM463 310h2v1h-2zM465 309h3v1h-3zM468 308h3v1h-3zM471 307h2v1h-2zM473 306h3v1h-3zM476 305h3v1h-3zM479 304h4v1h-4zM483 303h3v1h-3zM486 302h2v1h-2zM488 301h2v1h-2zM490 300h2v1h-2zM492 299h2v1h-2zM494 298h2v1h-2zM496 297h2v1h-2zM498 296h2v1h-2zM500 295h2v1h-2zM502 294h2v1h-2zM504 293h1v1h-1zM505 292h2v1h-2zM507 291h2v1h-2zM509 290h1v1h-1zM510 289h2v1h-2zM512 288h2v1h-2zM514 287h2v1h-2zM516 286h2v1h-2zM518 285h2v1h-2zM520 284h1v1h-1zM521 283h2v1h-2zM523 282h2v1h-2zM525 281h2v1h-2zM527 280h2v1h-2zM529 279h3v1h-3zM532 278h2v1h-2zM534 277h2v1h-2zM536 276h2v1h-2zM538 275h2v1h-2zM540 274h2v1h-2zM542 273h2v1h-2zM544 272h1v1h-1zM545 271h2v1h-2zM547 270h2v1h-2zM549 269h1v1h-1zM550 268h2v1h-2zM552 267h1v1h-1zM553 266h2v1h-2zM555 265h2v1h-2zM557 264h1v1h-1zM558 263h1v1h-1zM559 262h2v1h-2zM561 261h1v1h-1zM562 260h1v1h-1zM563 259h2v1h-2zM565 258h2v1h-2zM567 257h2v1h-2zM569 256h3v1h-3zM572 255h2v1h-2zM574 254h2v1h-2zM576 253h1v1h-1zM577 252h2v1h-2zM579 251h2v1h-2zM581 250h1v1h-1zM582 249h2v1h-2zM584 248h2v1h-2zM586 247h2v1h-2zM588 246h2v1h-2zM590 245h2v1h-2zM592 244h1v1h-1zM593 243h2v1h-2zM595 242h2v1h-2zM597 241h1v1h-1zM598 240h2v1h-2zM600 239h1v1h-1zM601 238h2v1h-2zM603 237h2v1h-2zM605 236h1v1h-1zM606 235h2v1h-2zM608 234h1v1h-1zM609 233h2v1h-2zM611 232h2v1h-2zM613 231h2v1h-2zM615 230h2v1h-2zM617 229h3v1h-3zM620 228h3v1h-3zM623 227h2v1h-2zM625 226h3v1h-3zM628 225h3v1h-3zM631 224h2v1h-2zM633 223h3v1h-3zM636 222h3v1h-3zM639 221h2v1h-2zM641 220h3v1h-3zM644 219h2v1h-2zM646 218h2v1h-2zM648 217h2v1h-2zM650 216h2v1h-2zM652 215h2v1h-2zM654 214h2v1h-2zM656 213h2v1h-2zM658 212h2v1h-2zM660 211h3v1h-3zM663 210h2v1h-2zM665 209h2v1h-2zM667 208h2v1h-2zM669 207h3v1h-3zM672 206h2v1h-2zM674 205h2v1h-2zM676 204h2v1h-2zM678 203h2v1h-2zM680 202h1v1h-1zM681 201h2v1h-2zM683 200h2v1h-2zM685 199h1v1h-1zM686 198h2v1h-2zM688 197h2v1h-2zM690 196h2v1h-2zM692 195h3v1h-3zM695 194h4v1h-4zM699 193h4v1h-4zM703 192h2v1h-2zM705 191h3v1h-3zM708 190h2v1h-2zM710 189h2v1h-2zM712 188h2v1h-2zM714 187h2v1h-2zM716 186h3v1h-3zM719 185h4v1h-4zM723 184h6v1h-6zM729 183h6v1h-6zM735 182h4v1h-4zM739 181h6v1h-6zM745 180h5v1h-5zM750 179h2v1h-2zM752 178h1v1h-1zM753 177h2v1h-2zM755 176h2v1h-2zM757 175h1v1h-1zM758 174h2v1h-2zM760 173h2v1h-2zM762 172h2v1h-2zM764 171h2v1h-2zM766 170h2v1h-2zM768 169h1v1h-1zM769 168h2v1h-2zM771 167h2v1h-2zM773 166h2v1h-2zM775 165h2v1h-2zM777 164h3v1h-3zM780 163h3v1h-3zM783 162h2v1h-2zM785 161h3v1h-3zM788 160h3v1h-3zM791 159h4v1h-4zM795 158h4v1h-4zM799 157h4v1h-4zM803 156h4v1h-4zM807 155h4v1h-4zM811 154h4v1h-4zM815 153h2v1h-2zM817 152h3v1h-3zM820 151h5v1h-5zM825 150h8v1h-8zM833 149h8v1h-8zM841 148h6v1h-6zM847 147h2v1h-2zM849 146h3v1h-3zM852 145h3v1h-3zM855 144h4v1h-4zM859 143h4v1h-4zM863 142h4v1h-4zM867 141h4v1h-4zM871 140h4v1h-4zM875 139h4v1h-4zM879 138h3v1h-3zM882 137h3v1h-3zM885 136h4v1h-4zM889 135h3v1h-3zM892 134h3v1h-3zM895 133h3v1h-3zM898 132h3v1h-3zM901 131h4v1h-4zM905 130h3v1h-3zM908 129h14v1h-14zM922 130h3v1h-3zM925 131h4v1h-4zM929 132h3v1h-3zM932 133h3v1h-3zM935 134h4v1h-4zM939 135h4v1h-4zM943 136h4v1h-4zM947 137h4v1h-4zM951 138h4v1h-4zM955 139h4v1h-4zM959 140h4v1h-4zM963 141h5v1h-5zM968 142h5v1h-5zM973 143h6v1h-6zM979 144h6v1h-6zM985 145h6v1h-6zM991 146h2v1h-2zM993 147h3v1h-3zM996 148h3v1h-3zM999 149h2v1h-2zM1001 150h2v1h-2zM1003 151h2v1h-2zM1005 152h3v1h-3zM1008 153h2v1h-2zM1010 154h2v1h-2zM1012 155h3v1h-3zM1015 156h2v1h-2zM1017 157h3v1h-3zM1020 158h3v1h-3zM1023 159h2v1h-2zM1025 160h3v1h-3zM1028 161h4v1h-4zM1032 162h5v1h-5zM1037 163h6v1h-6zM1043 164h4v1h-4zM1047 165h4v1h-4zM1051 166h6v1h-6zM1057 167h8v1h-8zM1065 168h6v1h-6zM1071 169h4v1h-4zM1075 170h3v1h-3zM1078 171h2v1h-2zM1080 172h2v1h-2zM1082 173h2v1h-2zM1084 174h3v1h-3zM1087 175h2v1h-2zM1089 176h3v1h-3zM1092 177h3v1h-3zM1095 178h2v1h-2zM1097 179h3v1h-3zM1100 180h2v1h-2zM1102 181h2v1h-2zM1104 182h2v1h-2zM1106 183h2v1h-2zM1108 184h2v1h-2zM1110 185h2v1h-2zM1112 186h2v1h-2zM1114 187h2v1h-2zM1116 188h3v1h-3zM1119 189h2v1h-2zM1121 190h3v1h-3zM1124 191h3v1h-3zM1127 192h2v1h-2zM1129 193h3v1h-3zM1132 194h3v1h-3zM1135 195h4v1h-4zM1139 196h3v1h-3zM1142 197h2v1h-2zM1144 198h2v1h-2zM1146 199h2v1h-2zM1148 200h3v1h-3zM1151 201h4v1h-4zM1155 202h14v1h-14zM1169 203h54v1h-54zM1223 202h4v1h-4zM1227 201h4v1h-4zM1231 200h4v1h-4zM1235 199h4v1h-4zM1239 198h4v1h-4zM1243 197h5v1h-5zM1248 196h5v1h-5zM1253 195h4v1h-4zM1257 194h3v1h-3zM1260 193h2v1h-2z" fill="#0000cd"/>
<path d="M5 538h1v1h-1zM6 537h2v1h-2zM8 536h1v1h-1zM9 535h2v1h-2zM11 534h2v1h-2zM13 533h4v1h-4zM17 532h6v1h-6zM23 533h2v1h-2zM25 534h3v1h-3zM28 535h2v1h-2zM30 536h2v1h-2zM32 537h1v1h-1zM33 538h2v1h-2zM35 539h2v1h-2zM37 540h2v1h-2zM39 541h2v1h-2zM41 542h3v1h-3zM44 543h3v1h-3zM47 542h2v1h-2zM49 541h3v1h-3zM52 540h2v1h-2zM54 539h2v1h-2zM56 538h1v1h-1zM57 537h2v1h-2zM59 536h2v1h-2zM61 535h1v1h-1zM62 534h1v1h-1zM63 533h1v1h-1zM64 532h1v1h-1zM65 531h2v1h-2zM67 530h1v1h-1zM68 529h1v1h-1zM69 528h1v1h-1zM70 527h2v1h-2zM72 526h1v1h-1zM73 525h2v1h-2zM75 524h2v1h-2zM77 523h2v1h-2zM79 522h2v1h-2zM81 521h3v1h-3zM84 520h5v1h-5zM89 519h13v1h-13zM102 518h2v1h-2zM104 517h1v1h-1zM105 516h2v1h-2zM107 515h2v1h-2zM109 514h1v1h-1zM110 513h2v1h-2zM112 512h1v1h-1zM113 511h2v1h-2zM115 510h2v1h-2zM117 509h1v1h-1zM118 508h1v1h-1zM119 507h2v1h-2zM121 506h1v1h-1zM122 505h1v1h-1zM123 504h2v1h-2zM125 503h1v1h-1zM126 502h2v1h-2zM128 501h1v1h-1zM129 500h2v1h-2zM131 499h2v1h-2zM133 498h1v1h-1zM134 497h1v1h-1zM135 496h1v1h-1zM136 495h1v1h-1zM137 493h1v2h-1zM138 492h1v1h-1zM139 491h1v1h-1zM140 490h1v1h-1zM141 489h1v1h-1zM142 487h1v2h-1zM143 485h1v2h-1zM144 484h1v1h-1zM145 482h1v2h-1zM146 481h1v1h-1zM147 479h1v2h-1zM148 477h1v2h-1zM149 475h1v2h-1zM150 473h1v2h-1zM151 471h1v2h-1zM152 469h1v2h-1zM153 467h1v2h-1zM154 465h1v2h-1zM155 463h1v2h-1zM156 461h1v2h-1zM157 459h1v2h-1zM158 457h1v2h-1zM159 455h1v2h-1zM160 453h1v2h-1zM161 451h1v2h-1zM162 449h1v2h-1zM163 447h1v2h-1zM164 445h1v2h-1zM165 444h1v1h-1zM166 442h1v2h-1zM167 440h1v2h-1zM168 438h1v2h-1zM169 437h1v1h-1zM170 435h1v2h-1zM171 433h1v2h-1zM172 431h1v2h-1zM173 430h1v1h-1zM174 428h1v2h-1zM175 426h1v2h-1zM176 424h1v2h-1zM177 423h1v1h-1zM178 421h1v2h-1zM179 419h1v2h-1zM180 417h1v2h-1zM181 415h1v2h-1zM182 413h1v2h-1zM183 411h1v2h-1zM184 409h1v2h-1zM185 407h1v2h-1zM186 405h1v2h-1zM187 403h1v2h-1zM188 401h1v2h-1zM189 398h1v3h-1zM190 396h1v2h-1zM191 394h1v2h-1zM192 392h1v2h-1zM193 390h1v2h-1zM194 388h1v2h-1zM195 386h1v2h-1zM196 384h1v2h-1zM197 382h1v2h-1zM198 380h1v2h-1zM199 378h1v2h-1zM200 376h1v2h-1zM201 374h1v2h-1zM202 372h1v2h-1zM203 370h1v2h-1zM204 368h1v2h-1zM205 366h1v2h-1zM206 364h1v2h-1zM207 362h1v2h-1zM208 360h1v2h-1zM209 359h1v1h-1zM210 357h1v2h-1zM211 355h1v2h-1zM212 353h1v2h-1zM213 352h1v1h-1zM214 351h1v1h-1zM215 349h1v2h-1zM216 348h1v1h-1zM217 347h1v1h-1zM218 346h1v1h-1zM219 344h1v2h-1zM220 343h1v1h-1zM221 342h1v1h-1zM222 341h1v1h-1zM223 340h1v1h-1zM224 339h1v1h-1zM225 337h1v2h-1zM226 336h1v1h-1zM227 335h1v1h-1zM228 334h1v1h-1zM229 333h1v1h-1zM230 332h1v1h-1zM231 331h1v1h-1zM232 330h1v1h-1zM233 329h1v1h-1zM234 328h1v1h-1zM235 327h1v1h-1zM236 326h1v1h-1zM237 325h1v1h-1zM238 324h1v1h-1zM239 323h1v1h-1zM240 322h1v1h-1zM241 321h2v1h-2zM243 320h1v1h-1zM244 319h1v1h-1zM245 318h1v1h-1zM246 317h1v1h-1zM247 316h1v1h-1zM248 315h1v1h-1zM249 314h2v1h-2zM251 313h1v1h-1zM252 312h1v1h-1zM253 311h1v1h-1zM254 310h2v1h-2zM256 309h2v1h-2zM258 308h2v1h-2zM260 307h5v1h-5zM265 308h6v1h-6zM271 309h2v1h-2zM273 310h3v1h-3zM276 311h2v1h-2zM278 312h2v1h-2zM280 313h2v1h-2zM282 314h2v1h-2zM284 315h5v1h-5zM289 316h6v1h-6zM295 317h4v1h-4zM299 318h4v1h-4zM303 319h2v1h-2zM305 320h3v1h-3zM308 321h2v1h-2zM310 322h2v1h-2zM312 323h1v1h-1zM313 324h2v1h-2zM315 325h2v1h-2zM317 326h1v1h-1zM318 327h2v1h-2zM320 328h2v1h-2zM322 329h2v1h-2zM324 330h3v1h-3zM327 331h4v1h-4zM331 332h6v1h-6zM337 331h11v1h-11zM348 330h4v1h-4zM352 329h4v1h-4zM356 328h4v1h-4zM360 327h5v1h-5zM365 326h6v1h-6zM371 325h3v1h-3zM374 324h2v1h-2zM376 323h2v1h-2zM378 322h2v1h-2zM380 321h2v1h-2zM382 320h2v1h-2zM384 319h2v1h-2zM386 318h2v1h-2zM388 317h2v1h-2zM390 316h2v1h-2zM392 315h2v1h-2zM394 314h2v1h-2zM396 313h3v1h-3zM399 312h2v1h-2zM401 311h3v1h-3zM404 310h11v1h-11zM415 309h2v1h-2zM417 308h3v1h-3zM420 307h3v1h-3zM423 306h2v1h-2zM425 305h3v1h-3zM428 304h2v1h-2zM430 303h2v1h-2zM432 302h1v1h-1zM433 301h2v1h-2zM435 300h2v1h-2zM437 299h1v1h-1zM438 298h2v1h-2zM440 297h2v1h-2zM442 296h2v1h-2zM444 295h2v1h-2zM446 294h2v1h-2zM448 293h1v1h-1zM449 292h2v1h-2zM451 291h2v1h-2zM453 290h1v1h-1zM454 289h2v1h-2zM456 288h2v1h-2zM458 287h2v1h-2zM460 286h3v1h-3zM463 285h2v1h-2zM465 284h3v1h-3zM468 283h3v1h-3zM471 282h2v1h-2zM473 281h3v1h-3zM476 280h3v1h-3zM479 279h4v1h-4zM483 278h3v1h-3zM486 277h1v1h-1zM487 276h1v1h-1zM488 275h1v1h-1zM489 274h2v1h-2zM491 273h1v1h-1zM492 272h1v1h-1zM493 271h1v1h-1zM494 270h1v1h-1zM495 269h1v1h-1zM496 268h1v1h-1zM497 267h2v1h-2zM499 266h1v1h-1zM500 265h1v1h-1zM501 264h1v1h-1zM502 263h1v1h-1zM503 262h2v1h-2zM505 261h1v1h-1zM506 260h1v1h-1zM507 259h2v1h-2zM509 258h2v1h-2zM511 257h2v1h-2zM513 256h3v1h-3zM516 255h2v1h-2zM518 254h2v1h-2zM520 253h1v1h-1zM521 252h2v1h-2zM523 251h2v1h-2zM525 250h1v1h-1zM526 249h1v1h-1zM527 248h2v1h-2zM529 247h1v1h-1zM530 246h1v1h-1zM531 245h2v1h-2zM533 244h1v1h-1zM534 243h1v1h-1zM535 242h1v1h-1zM536 241h1v1h-1zM537 239h1v2h-1zM538 238h1v1h-1zM539 237h1v1h-1zM540 236h1v1h-1zM541 235h1v1h-1zM542 234h1v1h-1zM543 233h1v1h-1zM544 232h1v1h-1zM545 231h2v1h-2zM547 230h1v1h-1zM548 229h1v1h-1zM549 228h1v1h-1zM550 227h1v1h-1zM551 226h1v1h-1zM552 225h1v1h-1zM553 224h2v1h-2zM555 223h1v1h-1zM556 222h1v1h-1zM557 221h1v1h-1zM558 220h2v1h-2zM560 219h2v1h-2zM562 218h2v1h-2zM564 217h2v1h-2zM566 216h1v1h-1zM567 215h2v1h-2zM569 214h1v1h-1zM570 213h1v1h-1zM571 212h2v1h-2zM573 211h1v1h-1zM574 210h2v1h-2zM576 209h2v1h-2zM578 208h2v1h-2zM580 207h2v1h-2zM582 206h2v1h-2zM584 205h2v1h-2zM586 204h2v1h-2zM588 203h2v1h-2zM590 202h1v1h-1zM591 201h1v1h-1zM592 200h1v1h-1zM593 199h1v1h-1zM594 198h1v1h-1zM595 197h1v1h-1zM596 196h1v1h-1zM597 195h1v1h-1zM598 194h2v1h-2zM600 193h2v1h-2zM602 192h2v1h-2zM604 191h5v1h-5zM609 190h13v1h-13zM622 189h2v1h-2zM624 188h2v1h-2zM626 187h2v1h-2zM628 186h5v1h-5zM633 185h8v1h-8zM641 184h22v1h-22zM663 183h4v1h-4zM667 182h4v1h-4zM671 181h4v1h-4zM675 180h4v1h-4zM679 179h2v1h-2zM681 178h3v1h-3zM684 177h2v1h-2zM686 176h2v1h-2zM688 175h2v1h-2zM690 174h2v1h-2zM692 173h5v1h-5zM697 172h6v1h-6zM703 173h4v1h-4zM707 174h4v1h-4zM711 175h4v1h-4zM715 176h14v1h-14zM729 175h8v1h-8zM737 174h5v1h-5zM742 173h1v1h-1zM743 172h2v1h-2zM745 171h1v1h-1zM746 170h1v1h-1zM747 169h2v1h-2zM749 168h1v1h-1zM750 167h1v1h-1zM751 166h2v1h-2zM753 165h1v1h-1zM754 164h1v1h-1zM755 163h2v1h-2zM757 162h1v1h-1zM758 161h1v1h-1zM759 160h1v1h-1zM760 159h1v1h-1zM761 158h1v1h-1zM762 157h1v1h-1zM763 156h1v1h-1zM764 155h1v1h-1zM765 154h1v1h-1zM766 153h1v1h-1zM767 152h1v1h-1zM768 151h1v1h-1zM769 150h1v1h-1zM770 149h1v1h-1zM771 148h1v1h-1zM772 147h1v1h-1zM773 146h1v1h-1zM774 145h1v1h-1zM775 144h2v1h-2zM777 143h1v1h-1zM778 142h1v1h-1zM779 141h2v1h-2zM781 140h1v1h-1zM782 139h2v1h-2zM784 138h2v1h-2zM786 137h2v1h-2zM788 136h5v1h-5zM793 135h6v1h-6zM799 134h4v1h-4zM803 133h3v1h-3zM806 132h2v1h-2zM808 131h2v1h-2zM810 130h2v1h-2zM812 129h2v1h-2zM814 128h1v1h-1zM815 127h2v1h-2zM817 126h1v1h-1zM818 125h1v1h-1zM819 124h2v1h-2zM821 123h2v1h-2zM823 122h4v1h-4zM827 121h3v1h-3zM830 120h2v1h-2zM832 119h2v1h-2zM834 118h2v1h-2zM836 117h2v1h-2zM838 116h2v1h-2zM840 115h2v1h-2zM842 114h2v1h-2zM844 113h5v1h-5zM849 112h14v1h-14zM863 113h4v1h-4zM867 114h6v1h-6zM873 115h6v1h-6zM879 116h2v1h-2zM881 117h3v1h-3zM884 118h3v1h-3zM887 119h2v1h-2zM889 120h3v1h-3zM892 121h5v1h-5zM897 122h6v1h-6zM903 121h4v1h-4zM907 120h6v1h-6zM913 121h5v1h-5zM918 122h1v1h-1zM919 123h2v1h-2zM921 124h1v1h-1zM922 125h1v1h-1zM923 126h2v1h-2zM925 127h1v1h-1zM926 128h1v1h-1zM927 129h1v1h-1zM928 130h1v1h-1zM929 131h2v1h-2zM931 132h1v1h-1zM932 133h1v1h-1zM933 134h1v1h-1zM934 135h1v1h-1zM935 136h2v1h-2zM937 137h1v1h-1zM938 138h1v1h-1zM939 139h2v1h-2zM941 140h1v1h-1zM942 141h1v1h-1zM943 142h1v1h-1zM944 143h1v1h-1zM945 144h1v1h-1zM946 145h1v1h-1zM947 146h1v1h-1zM948 147h1v1h-1zM949 148h1v1h-1zM950 149h1v1h-1zM951 150h1v2h-1zM952 152h1v1h-1zM953 153h1v1h-1zM954 154h1v1h-1zM955 155h1v2h-1zM956 157h1v1h-1zM957 158h1v1h-1zM958 159h1v1h-1zM959 160h1v1h-1zM960 161h1v1h-1zM961 162h1v1h-1zM962 163h1v1h-1zM963 164h1v1h-1zM964 165h1v1h-1zM965 166h1v1h-1zM966 167h1v1h-1zM967 168h1v1h-1zM968 169h1v1h-1zM969 170h2v1h-2zM971 171h1v1h-1zM972 172h1v1h-1zM973 173h1v1h-1zM974 174h2v1h-2zM976 175h1v1h-1zM977 176h2v1h-2zM979 177h2v1h-2zM981 178h1v1h-1zM982 179h2v1h-2zM984 180h1v1h-1zM985 181h2v1h-2zM987 182h2v1h-2zM989 183h1v1h-1zM990 184h1v1h-1zM991 185h2v1h-2zM993 186h1v1h-1zM994 187h1v1h-1zM995 188h2v1h-2zM997 189h1v1h-1zM998 190h2v1h-2zM1000 191h1v1h-1zM1001 192h2v1h-2zM1003 193h2v1h-2zM1005 194h1v1h-1zM1006 195h2v1h-2zM1008 196h2v1h-2zM1010 197h2v1h-2zM1012 198h2v1h-2zM1014 199h2v1h-2zM1016 200h1v1h-1zM1017 201h2v1h-2zM1019 202h2v1h-2zM1021 203h2v1h-2zM1023 204h2v1h-2zM1025 205h3v1h-3zM1028 206h5v1h-5zM1033 207h5v1h-5zM1038 206h2v1h-2zM1040 205h1v1h-1zM1041 204h2v1h-2zM1043 203h2v1h-2zM1045 202h1v1h-1zM1046 201h1v1h-1zM1047 200h1v1h-1zM1048 199h1v1h-1zM1049 198h2v1h-2zM1051 197h1v1h-1zM1052 196h1v1h-1zM1053 195h1v1h-1zM1054 194h1v1h-1zM1055 193h1v1h-1zM1056 192h1v1h-1zM1057 191h1v1h-1zM1058 190h1v1h-1zM1059 189h1v1h-1zM1060 188h1v1h-1zM1061 187h1v1h-1zM1062 186h2v1h-2zM1064 185h2v1h-2zM1066 184h2v1h-2zM1068 183h2v1h-2zM1070 182h2v1h-2zM1072 181h2v1h-2zM1074 180h2v1h-2zM1076 179h3v1h-3zM1079 180h4v1h-4zM1083 181h4v1h-4zM1087 182h2v1h-2zM1089 183h3v1h-3zM1092 184h3v1h-3zM1095 185h2v1h-2zM1097 186h3v1h-3zM1100 187h3v1h-3zM1103 188h2v1h-2zM1105 189h3v1h-3zM1108 190h3v1h-3zM1111 191h2v1h-2zM1113 192h3v1h-3zM1116 193h3v1h-3zM1119 194h4v1h-4zM1123 195h6v1h-6zM1129 196h8v1h-8zM1137 197h13v1h-13zM1150 198h2v1h-2zM1152 199h2v1h-2zM1154 200h2v1h-2zM1156 201h3v1h-3zM1159 202h4v1h-4zM1163 203h3v1h-3zM1166 204h2v1h-2zM1168 205h1v1h-1zM1169 206h2v1h-2zM1171 207h2v1h-2zM1173 208h1v1h-1zM1174 209h1v1h-1zM1175 210h1v1h-1zM1176 211h1v1h-1zM1177 212h1v1h-1zM1178 213h1v1h-1zM1179 214h1v1h-1zM1180 215h1v1h-1zM1181 216h1v1h-1zM1182 217h2v1h-2zM1184 218h2v1h-2zM1186 219h2v1h-2zM1188 220h3v1h-3zM1191 221h2v1h-2zM1193 222h3v1h-3zM1196 223h3v1h-3zM1199 224h4v1h-4zM1203 225h3v1h-3zM1206 224h2v1h-2zM1208 223h2v1h-2zM1210 222h2v1h-2zM1212 221h3v1h-3zM1215 220h2v1h-2zM1217 219h3v1h-3zM1220 218h2v1h-2zM1222 217h1v1h-1zM1223 216h1v1h-1zM1224 215h1v1h-1zM1225 214h2v1h-2zM1227 213h1v1h-1zM1228 212h1v1h-1zM1229 211h1v1h-1zM1230 210h2v1h-2zM1232 209h1v1h-1zM1233 208h2v1h-2zM1235 207h2v1h-2zM1237 206h1v1h-1zM1238 205h1v1h-1zM1239 204h2v1h-2zM1241 203h1v1h-1zM1242 202h1v1h-1zM1243 201h2v1h-2zM1245 200h1v1h-1zM1246 199h1v1h-1zM1247 198h1v1h-1zM1248 197h1v1h-1zM1249 196h2v1h-2zM1251 195h1v1h-1zM1252 194h1v1h-1zM1253 193h1v1h-1zM1254 192h2v1h-2zM1256 191h2v1h-2zM1258 190h2v1h-2zM1260 189h2v1h-2z" fill="#f00"/>
<path d="M5 525h1v1h-1zM6 524h1v1h-1zM7 523h1v1h-1zM8 522h1v1h-1zM9 520h1v2h-1zM10 519h1v1h-1zM11 518h1v1h-1zM12 517h1v1h-1zM13 516h1v1h-1zM14 517h2v1h-2zM16 518h2v1h-2zM18 519h2v1h-2zM20 520h2v1h-2zM22 521h1v2h-1zM23 523h1v2h-1zM24 525h1v1h-1zM25 526h1v2h-1zM26 528h1v1h-1zM27 529h1v2h-1zM28 531h1v2h-1zM29 533h1v1h-1zM30 534h1v1h-1zM31 535h1v2h-1zM32 537h1v1h-1zM33 538h1v1h-1zM34 539h1v1h-1zM35 540h1v2h-1zM36 542h1v1h-1zM37 543h1v1h-1zM38 544h1v1h-1zM39 545h2v1h-2zM41 546h1v1h-1zM42 547h1v1h-1zM43 548h2v1h-2zM45 549h4v1h-4zM49 548h5v1h-5zM54 546h1v2h-1zM55 545h1v1h-1zM56 543h1v2h-1zM57 542h1v1h-1zM58 540h1v2h-1zM59 539h1v1h-1zM60 537h1v2h-1zM61 535h1v2h-1zM62 533h1v2h-1zM63 531h1v2h-1zM64 529h1v2h-1zM65 526h1v3h-1zM66 524h1v2h-1zM67 522h1v2h-1zM68 520h1v2h-1zM69 518h1v2h-1zM70 516h1v2h-1zM71 514h1v2h-1zM72 512h1v2h-1zM73 510h1v2h-1zM74 508h1v2h-1zM75 506h1v2h-1zM76 504h1v2h-1zM77 502h1v2h-1zM78 501h1v1h-1zM79 500h1v1h-1zM80 499h1v1h-1zM81 498h1v1h-1zM82 497h1v1h-1zM83 496h1v1h-1zM84 495h1v1h-1zM85 494h2v1h-2zM87 493h4v1h-4zM91 492h4v1h-4zM95 493h4v1h-4zM99 494h3v1h-3zM102 493h2v1h-2zM104 492h1v1h-1zM105 491h2v1h-2zM107 490h2v1h-2zM109 489h2v1h-2zM111 488h2v1h-2zM113 487h3v1h-3zM116 486h2v1h-2zM118 484h1v2h-1zM119 482h1v2h-1zM120 481h1v1h-1zM121 479h1v2h-1zM122 478h1v1h-1zM123 476h1v2h-1zM124 474h1v2h-1zM125 473h1v1h-1zM126 471h1v2h-1zM127 469h1v2h-1zM128 468h1v1h-1zM129 466h1v2h-1zM130 465h1v1h-1zM131 463h1v2h-1zM132 461h1v2h-1zM133 460h1v1h-1zM134 458h1v2h-1zM135 457h1v1h-1zM136 456h1v1h-1zM137 454h1v2h-1zM138 453h1v1h-1zM139 452h1v1h-1zM140 450h1v2h-1zM141 449h1v1h-1zM142 447h1v2h-1zM143 446h1v1h-1zM144 444h1v2h-1zM145 443h1v1h-1zM146 441h1v2h-1zM147 439h1v2h-1zM148 435h1v4h-1zM149 431h1v4h-1zM150 427h1v4h-1zM151 423h1v4h-1zM152 419h1v4h-1zM153 416h1v3h-1zM154 412h1v4h-1zM155 408h1v4h-1zM156 404h1v4h-1zM157 401h1v3h-1zM158 397h1v4h-1zM159 393h1v4h-1zM160 390h1v3h-1zM161 386h1v4h-1zM162 383h1v3h-1zM163 379h1v4h-1zM164 375h1v4h-1zM165 372h1v3h-1zM166 368h1v4h-1zM167 364h1v4h-1zM168 360h1v4h-1zM169 356h1v4h-1zM170 352h1v4h-1zM171 348h1v4h-1zM172 344h1v4h-1zM173 341h1v3h-1zM174 338h1v3h-1zM175 335h1v3h-1zM176 333h1v2h-1zM177 330h1v3h-1zM178 327h1v3h-1zM179 322h1v5h-1zM180 316h1v6h-1zM181 312h1v4h-1zM182 310h1v2h-1zM183 308h1v2h-1zM184 306h1v2h-1zM185 304h1v2h-1zM186 302h1v2h-1zM187 300h1v2h-1zM188 298h1v2h-1zM189 297h1v1h-1zM190 295h1v2h-1zM191 293h1v2h-1zM192 291h1v2h-1zM193 289h1v2h-1zM194 287h1v2h-1zM195 285h1v2h-1zM196 283h5v1h-5zM196 284h1v1h-1zM201 282h5v1h-5zM206 281h1v1h-1zM207 280h2v1h-2zM209 279h1v1h-1zM210 278h1v1h-1zM211 277h2v1h-2zM213 276h1v1h-1zM214 277h1v2h-1zM215 279h1v1h-1zM216 280h1v1h-1zM217 281h1v2h-1zM218 283h1v1h-1zM219 284h1v1h-1zM220 285h1v2h-1zM221 287h1v1h-1zM222 288h1v1h-1zM223 289h1v2h-1zM224 291h1v1h-1zM225 292h1v1h-1zM226 293h1v1h-1zM227 294h1v1h-1zM228 295h1v2h-1zM229 297h1v1h-1zM230 298h1v1h-1zM231 299h1v2h-1zM232 301h1v2h-1zM233 303h1v2h-1zM234 305h1v2h-1zM235 307h1v2h-1zM236 309h1v2h-1zM237 311h1v2h-1zM238 313h1v2h-1zM239 315h1v2h-1zM240 317h1v1h-1zM241 318h1v2h-1zM242 320h1v1h-1zM243 321h1v2h-1zM244 323h1v2h-1zM245 325h1v1h-1zM246 326h1v2h-1zM247 328h1v1h-1zM248 329h1v1h-1zM249 330h1v2h-1zM250 332h1v1h-1zM251 333h1v1h-1zM252 334h1v2h-1zM253 336h4v1h-4zM257 335h16v1h-16zM273 334h14v1h-14zM287 333h4v1h-4zM291 332h3v1h-3zM294 331h2v1h-2zM296 330h1v1h-1zM297 329h2v1h-2zM299 328h2v1h-2zM301 327h2v1h-2zM303 326h2v1h-2zM305 325h3v1h-3zM308 324h5v1h-5zM313 323h6v1h-6zM319 322h4v1h-4zM323 321h3v1h-3zM326 322h2v1h-2zM328 323h2v1h-2zM330 324h2v1h-2zM332 325h2v1h-2zM334 326h1v1h-1zM335 327h1v2h-1zM336 329h1v1h-1zM337 330h1v1h-1zM338 331h1v1h-1zM339 332h1v2h-1zM340 334h1v1h-1zM341 335h8v1h-8zM349 334h2v1h-2zM351 333h1v1h-1zM352 332h2v1h-2zM354 331h1v1h-1zM355 330h2v1h-2zM357 329h1v1h-1zM358 328h1v1h-1zM359 327h1v1h-1zM360 326h1v1h-1zM361 325h1v1h-1zM362 324h1v1h-1zM363 323h1v1h-1zM364 322h1v1h-1zM365 321h1v1h-1zM366 320h1v1h-1zM367 319h2v1h-2zM369 318h1v1h-1zM370 317h1v1h-1zM371 316h2v1h-2zM373 315h1v1h-1zM374 314h1v1h-1zM375 313h1v1h-1zM376 312h1v1h-1zM377 310h1v2h-1zM378 309h1v1h-1zM379 308h1v1h-1zM380 307h1v1h-1zM381 306h1v1h-1zM382 305h1v1h-1zM383 304h1v1h-1zM384 303h1v1h-1zM385 302h1v1h-1zM386 301h1v1h-1zM387 300h1v1h-1zM388 299h1v1h-1zM389 298h1v1h-1zM390 297h1v1h-1zM391 296h1v1h-1zM392 295h2v1h-2zM394 294h1v1h-1zM395 293h1v1h-1zM396 292h2v1h-2zM398 291h2v1h-2zM400 290h2v1h-2zM402 289h2v1h-2zM404 288h2v1h-2zM406 287h4v1h-4zM410 286h5v1h-5zM415 285h4v1h-4zM419 284h4v1h-4zM423 285h2v1h-2zM425 286h3v1h-3zM428 287h5v1h-5zM433 286h6v1h-6zM439 285h4v1h-4zM443 284h3v1h-3zM446 283h2v1h-2zM448 282h2v1h-2zM450 281h2v1h-2zM452 280h2v1h-2zM454 279h2v1h-2zM456 278h1v1h-1zM457 277h2v1h-2zM459 276h2v1h-2zM461 275h1v1h-1zM462 274h2v1h-2zM464 273h2v1h-2zM466 272h2v1h-2zM468 271h3v1h-3zM471 270h4v1h-4zM475 269h3v1h-3zM478 268h1v1h-1zM479 267h2v1h-2zM481 266h1v1h-1zM482 265h1v1h-1zM483 264h2v1h-2zM485 263h1v1h-1zM486 262h1v1h-1zM487 260h1v2h-1zM488 259h1v1h-1zM489 258h1v1h-1zM490 257h1v1h-1zM491 255h1v2h-1zM492 254h1v1h-1zM493 253h1v1h-1zM494 251h1v2h-1zM495 249h1v2h-1zM496 247h1v2h-1zM497 246h1v1h-1zM498 244h1v2h-1zM499 242h1v2h-1zM500 240h1v2h-1zM501 239h1v1h-1zM502 237h1v2h-1zM503 235h1v2h-1zM504 233h1v2h-1zM505 232h1v1h-1zM506 230h1v2h-1zM507 228h1v2h-1zM508 226h1v2h-1zM509 225h1v1h-1zM510 224h1v1h-1zM511 222h1v2h-1zM512 221h1v1h-1zM513 220h1v1h-1zM514 219h1v1h-1zM515 217h1v2h-1zM516 216h1v1h-1zM517 215h1v1h-1zM518 214h1v1h-1zM519 213h1v1h-1zM520 212h1v1h-1zM521 210h1v2h-1zM522 209h1v1h-1zM523 208h1v1h-1zM524 207h1v1h-1zM525 206h4v1h-4zM529 205h6v1h-6zM535 204h4v1h-4zM539 203h4v1h-4zM543 202h2v1h-2zM545 201h3v1h-3zM548 200h2v1h-2zM550 199h2v1h-2zM552 198h1v1h-1zM553 197h2v1h-2zM555 196h2v1h-2zM557 195h1v1h-1zM558 194h1v1h-1zM559 193h2v1h-2zM561 192h1v1h-1zM562 191h1v1h-1zM563 190h2v1h-2zM565 189h4v1h-4zM569 188h5v1h-5zM574 189h2v1h-2zM576 190h2v1h-2zM578 191h2v1h-2zM580 192h3v1h-3zM583 193h2v1h-2zM585 194h3v1h-3zM588 195h2v1h-2zM590 194h1v1h-1zM591 193h1v1h-1zM592 192h1v1h-1zM593 191h1v1h-1zM594 190h1v1h-1zM595 189h1v1h-1zM596 188h1v1h-1zM597 187h1v1h-1zM598 186h1v1h-1zM599 185h2v1h-2zM601 184h1v1h-1zM602 183h1v1h-1zM603 182h2v1h-2zM605 181h2v1h-2zM607 180h4v1h-4zM611 179h3v1h-3zM614 178h2v1h-2zM616 177h1v1h-1zM617 176h2v1h-2zM619 175h2v1h-2zM621 174h4v1h-4zM625 173h5v1h-5zM630 174h1v1h-1zM631 175h2v1h-2zM633 176h1v1h-1zM634 177h1v1h-1zM635 178h2v1h-2zM637 179h1v1h-1zM638 180h1v1h-1zM639 181h2v1h-2zM641 182h1v1h-1zM642 183h1v1h-1zM643 184h2v1h-2zM645 185h18v1h-18zM663 184h2v1h-2zM665 183h3v1h-3zM668 182h2v1h-2zM670 181h2v1h-2zM672 180h1v1h-1zM673 179h2v1h-2zM675 178h2v1h-2zM677 177h1v1h-1zM678 176h1v1h-1zM679 175h1v1h-1zM680 174h1v1h-1zM681 173h2v1h-2zM683 172h1v1h-1zM684 171h1v1h-1zM685 170h1v1h-1zM686 169h1v1h-1zM687 168h1v1h-1zM688 167h1v1h-1zM689 166h1v1h-1zM690 165h1v1h-1zM691 164h1v1h-1zM692 163h1v1h-1zM693 162h4v1h-4zM697 161h6v1h-6zM703 162h4v1h-4zM707 163h3v1h-3zM710 164h2v1h-2zM712 165h1v1h-1zM713 166h2v1h-2zM715 167h2v1h-2zM717 168h1v1h-1zM718 169h1v1h-1zM719 170h1v1h-1zM720 171h1v1h-1zM721 172h2v1h-2zM723 173h1v1h-1zM724 174h1v1h-1zM725 175h1v1h-1zM726 176h2v1h-2zM728 177h1v1h-1zM729 178h2v1h-2zM731 179h2v1h-2zM733 180h1v1h-1zM734 179h2v1h-2zM736 178h1v1h-1zM737 177h2v1h-2zM739 176h2v1h-2zM741 175h1v1h-1zM742 174h1v1h-1zM743 173h1v1h-1zM744 172h1v1h-1zM745 170h1v2h-1zM746 169h1v1h-1zM747 168h1v1h-1zM748 167h1v1h-1zM749 165h1v2h-1zM750 162h1v3h-1zM751 159h1v3h-1zM752 156h1v3h-1zM753 154h1v2h-1zM754 151h1v3h-1zM755 148h1v3h-1zM756 145h1v3h-1zM757 142h1v3h-1zM758 140h1v2h-1zM759 137h1v3h-1zM760 135h1v2h-1zM761 132h1v3h-1zM762 130h1v2h-1zM763 127h1v3h-1zM764 125h1v2h-1zM765 122h1v3h-1zM766 120h1v2h-1zM767 118h1v2h-1zM768 116h1v2h-1zM769 114h1v2h-1zM770 112h1v2h-1zM771 110h1v2h-1zM772 108h1v2h-1zM773 106h1v2h-1zM774 104h1v2h-1zM775 102h1v2h-1zM776 100h1v2h-1zM777 98h1v2h-1zM778 96h1v2h-1zM779 94h1v2h-1zM780 92h1v2h-1zM781 90h1v2h-1zM782 89h1v1h-1zM783 88h2v1h-2zM785 87h1v1h-1zM786 86h1v1h-1zM787 85h2v1h-2zM789 84h1v1h-1zM790 85h1v1h-1zM791 86h1v1h-1zM792 87h1v1h-1zM793 88h1v2h-1zM794 90h1v1h-1zM795 91h1v1h-1zM796 92h1v1h-1zM797 93h1v1h-1zM798 94h1v1h-1zM799 95h1v1h-1zM800 96h1v1h-1zM801 97h1v2h-1zM802 99h1v1h-1zM803 100h1v1h-1zM804 101h1v1h-1zM805 102h1v1h-1zM806 103h1v1h-1zM807 104h1v1h-1zM808 105h1v1h-1zM809 106h1v2h-1zM810 108h1v1h-1zM811 109h1v1h-1zM812 110h1v1h-1zM813 111h1v1h-1zM814 112h1v1h-1zM815 113h1v2h-1zM816 115h1v1h-1zM817 116h1v1h-1zM818 117h1v1h-1zM819 118h1v2h-1zM820 120h1v1h-1zM821 121h1v1h-1zM822 122h1v1h-1zM823 123h1v1h-1zM824 124h1v1h-1zM825 125h1v2h-1zM826 127h1v1h-1zM827 128h1v1h-1zM828 129h1v1h-1zM829 130h4v1h-4zM833 129h6v1h-6zM839 128h4v1h-4zM843 127h4v1h-4zM847 128h4v1h-4zM851 129h6v1h-6zM857 130h5v1h-5zM862 129h1v1h-1zM863 128h1v1h-1zM864 127h1v1h-1zM865 126h1v1h-1zM866 125h1v1h-1zM867 124h1v1h-1zM868 123h1v1h-1zM869 122h1v1h-1zM870 121h2v1h-2zM872 120h2v1h-2zM874 119h2v1h-2zM876 118h3v1h-3zM879 117h2v1h-2zM881 116h3v1h-3zM884 115h5v1h-5zM889 114h6v1h-6zM895 113h4v1h-4zM899 112h11v1h-11zM910 113h1v1h-1zM911 114h1v1h-1zM912 115h1v1h-1zM913 116h1v1h-1zM914 117h1v1h-1zM915 118h1v1h-1zM916 119h1v1h-1zM917 120h1v1h-1zM918 121h1v2h-1zM919 123h1v2h-1zM920 125h1v2h-1zM921 127h1v2h-1zM922 129h1v2h-1zM923 131h1v2h-1zM924 133h1v2h-1zM925 135h1v2h-1zM926 137h1v2h-1zM927 139h1v2h-1zM928 141h1v3h-1zM929 144h1v2h-1zM930 146h1v3h-1zM931 149h1v2h-1zM932 151h1v2h-1zM933 153h1v3h-1zM934 156h1v4h-1zM935 160h1v3h-1zM936 163h1v4h-1zM937 167h1v3h-1zM938 170h1v4h-1zM939 174h1v3h-1zM940 177h1v4h-1zM941 181h1v3h-1zM942 184h1v4h-1zM943 188h1v4h-1zM944 192h1v3h-1zM945 195h1v4h-1zM946 199h1v3h-1zM947 202h1v4h-1zM948 206h1v4h-1zM949 210h1v3h-1zM950 213h1v2h-1zM951 215h1v3h-1zM952 218h1v2h-1zM953 220h1v3h-1zM954 223h1v2h-1zM955 225h1v3h-1zM956 228h1v2h-1zM957 230h1v2h-1zM958 232h1v1h-1zM959 233h1v2h-1zM960 235h1v1h-1zM961 236h1v1h-1zM962 237h1v1h-1zM963 238h1v2h-1zM964 240h1v1h-1zM965 241h4v1h-4zM969 240h5v1h-5zM974 238h1v2h-1zM975 236h1v2h-1zM976 234h1v2h-1zM977 233h1v1h-1zM978 231h1v2h-1zM979 229h1v2h-1zM980 227h1v2h-1zM981 226h1v1h-1zM982 224h1v2h-1zM983 222h1v2h-1zM984 220h1v2h-1zM985 218h1v2h-1zM986 216h1v2h-1zM987 214h1v2h-1zM988 212h1v2h-1zM989 210h1v2h-1zM990 208h1v2h-1zM991 206h1v2h-1zM992 205h1v1h-1zM993 203h1v2h-1zM994 202h1v1h-1zM995 200h1v2h-1zM996 198h1v2h-1zM997 197h1v1h-1zM998 196h1v1h-1zM999 195h1v1h-1zM1000 194h1v1h-1zM1001 193h1v1h-1zM1002 192h1v1h-1zM1003 191h1v1h-1zM1004 190h1v1h-1zM1005 189h1v1h-1zM1006 188h1v1h-1zM1007 187h1v1h-1zM1008 186h1v1h-1zM1009 185h1v1h-1zM1010 184h1v1h-1zM1011 183h1v1h-1zM1012 182h1v1h-1zM1013 181h4v1h-4zM1017 182h5v1h-5zM1022 183h2v1h-2zM1024 184h1v1h-1zM1025 185h2v1h-2zM1027 186h2v1h-2zM1029 187h4v1h-4zM1033 186h5v1h-5zM1038 185h1v1h-1zM1039 184h1v1h-1zM1040 183h1v1h-1zM1041 182h1v1h-1zM1042 181h1v1h-1zM1043 180h1v1h-1zM1044 179h1v1h-1zM1045 178h1v1h-1zM1046 177h1v1h-1zM1047 176h2v1h-2zM1049 175h1v1h-1zM1050 174h1v1h-1zM1051 173h2v1h-2zM1053 172h1v1h-1zM1054 171h2v1h-2zM1056 170h1v1h-1zM1057 169h2v1h-2zM1059 168h2v1h-2zM1061 167h2v1h-2zM1063 166h4v1h-4zM1067 165h6v1h-6zM1073 164h5v1h-5zM1078 165h1v2h-1zM1079 167h1v2h-1zM1080 169h1v2h-1zM1081 171h1v2h-1zM1082 173h1v2h-1zM1083 175h1v2h-1zM1084 177h1v2h-1zM1085 179h1v2h-1zM1086 181h1v2h-1zM1087 183h1v2h-1zM1088 185h1v2h-1zM1089 187h1v2h-1zM1090 189h1v2h-1zM1091 191h1v2h-1zM1092 193h1v2h-1zM1093 195h1v2h-1zM1094 197h1v1h-1zM1095 198h1v2h-1zM1096 200h1v1h-1zM1097 201h1v1h-1zM1098 202h1v1h-1zM1099 203h1v2h-1zM1100 205h1v1h-1zM1101 206h1v1h-1zM1102 207h1v1h-1zM1103 208h1v1h-1zM1104 209h1v1h-1zM1105 210h1v2h-1zM1106 212h1v1h-1zM1107 213h1v1h-1zM1108 214h1v1h-1zM1109 215h1v1h-1zM1110 216h1v2h-1zM1111 218h1v1h-1zM1112 219h1v1h-1zM1113 220h1v2h-1zM1114 222h1v1h-1zM1115 223h1v1h-1zM1116 224h1v2h-1zM1117 226h1v1h-1zM1118 225h2v1h-2zM1120 224h1v1h-1zM1121 223h2v1h-2zM1123 222h2v1h-2zM1125 221h2v1h-2zM1127 220h2v1h-2zM1129 219h3v1h-3zM1132 218h3v1h-3zM1135 217h4v1h-4zM1139 216h3v1h-3zM1142 215h1v1h-1zM1143 214h2v1h-2zM1145 213h1v1h-1zM1146 212h1v1h-1zM1147 211h2v1h-2zM1149 210h1v1h-1zM1150 209h2v1h-2zM1152 208h1v1h-1zM1153 207h2v1h-2zM1155 206h2v1h-2zM1157 205h2v1h-2zM1159 204h4v1h-4zM1163 203h3v1h-3zM1166 204h2v1h-2zM1168 205h2v1h-2zM1170 206h2v1h-2zM1172 207h2v1h-2zM1174 208h1v2h-1zM1175 210h1v1h-1zM1176 211h1v2h-1zM1177 213h1v1h-1zM1178 214h1v2h-1zM1179 216h1v1h-1zM1180 217h1v2h-1zM1181 219h1v1h-1zM1182 220h1v2h-1zM1183 222h1v1h-1zM1184 223h1v1h-1zM1185 224h1v2h-1zM1186 226h1v1h-1zM1187 227h1v1h-1zM1188 228h1v2h-1zM1189 230h1v1h-1zM1190 231h1v1h-1zM1191 232h1v2h-1zM1192 234h1v1h-1zM1193 235h1v1h-1zM1194 236h1v1h-1zM1195 237h1v2h-1zM1196 239h1v1h-1zM1197 240h1v1h-1zM1198 241h1v1h-1zM1199 242h1v2h-1zM1200 244h1v1h-1zM1201 245h1v1h-1zM1202 246h1v1h-1zM1203 247h1v2h-1zM1204 249h1v1h-1zM1205 250h1v1h-1zM1206 249h1v1h-1zM1207 247h1v2h-1zM1208 246h1v1h-1zM1209 245h1v1h-1zM1210 244h1v1h-1zM1211 242h1v2h-1zM1212 241h1v1h-1zM1213 239h1v2h-1zM1214 237h1v2h-1zM1215 235h1v2h-1zM1216 233h1v2h-1zM1217 231h1v2h-1zM1218 229h1v2h-1zM1219 227h1v2h-1zM1220 225h1v2h-1zM1221 222h1v3h-1zM1222 218h1v4h-1zM1223 214h1v4h-1zM1224 210h1v4h-1zM1225 207h1v3h-1zM1226 203h1v4h-1zM1227 199h1v4h-1zM1228 195h1v4h-1zM1229 192h1v3h-1zM1230 190h1v2h-1zM1231 187h1v3h-1zM1232 184h1v3h-1zM1233 182h1v2h-1zM1234 179h1v3h-1zM1235 176h1v3h-1zM1236 174h1v2h-1zM1237 171h1v3h-1zM1238 168h1v3h-1zM1239 165h1v3h-1zM1240 161h1v4h-1zM1241 158h1v3h-1zM1242 155h1v3h-1zM1243 153h1v2h-1zM1244 151h1v2h-1zM1245 150h1v1h-1zM1246 148h1v2h-1zM1247 146h1v2h-1zM1248 145h1v1h-1zM1249 144h1v1h-1zM1250 142h1v2h-1zM1251 141h1v1h-1zM1252 140h1v1h-1zM1253 138h1v2h-1zM1254 137h1v1h-1zM1255 136h1v1h-1zM1256 134h1v2h-1zM1257 132h1v2h-1zM1258 131h1v1h-1zM1259 129h1v2h-1zM1260 127h1v2h-1zM1261 125h1v2h-1zM1262 124h1v1h-1z" fill="#ffa500"/>
<rect x="5" y="60" width="1592" height="2" fill="#f00"/>
<rect x="5" y="111" width="1592" height="2" fill="#f00"/>
<rect x="5" y="162" width="1592" height="2" fill="#0f0"/>
<rect x="5" y="212" width="1592" height="2" fill="#00f"/>
<rect x="5" y="265" width="1592" height="2" fill="#00f"/>
</g>
<rect x="1597" y="60" width="2" height="2" fill="#f00"/>
<rect x="4" y="58" width="6" height="6" fill="#f00"/>
<rect x="6" y="60" width="2" height="2" fill="#fff"/>
<rect x="1591" y="58" width="6" height="6" fill="#f00"/>
<rect x="1593" y="60" width="2" height="2" fill="#fff"/>
<rect x="1599" y="55" width="41" height="11" fill="#f00"/>
<text x="1603" y="64" font-size="10.2" fill="#fff" stroke="#fff" stroke-width="0.25" textLength="33" lengthAdjust="spacingAndGlyphs">0.74019</text>
<rect x="1597" y="111" width="2" height="2" fill="#f00"/>
<rect x="4" y="109" width="6" height="6" fill="#f00"/>
<rect x="6" y="111" width="2" height="2" fill="#fff"/>
<rect x="1591" y="109" width="6" height="6" fill="#f00"/>
<rect x="1593" y="111" width="2" height="2" fill="#fff"/>
<rect x="1599" y="106" width="41" height="11" fill="#f00"/>
<text x="1603" y="115" font-size="10.2" fill="#fff" stroke="#fff" stroke-width="0.25" textLength="33" lengthAdjust="spacingAndGlyphs">0.73023</text>
<rect x="1597" y="162" width="2" height="2" fill="#0f0"/>
<rect x="4" y="160" width="6" height="6" fill="#0f0"/>
<rect x="6" y="162" width="2" height="2" fill="#fff"/>
<rect x="1591" y="160" width="6" height="6" fill="#0f0"/>
<rect x="1593" y="162" width="2" height="2" fill="#fff"/>
<rect x="1599" y="157" width="41" height="11" fill="#0f0"/>
<text x="1603" y="166" font-size="10.2" fill="#fff" stroke="#fff" stroke-width="0.25" textLength="33" lengthAdjust="spacingAndGlyphs">0.72026</text>
<rect x="1597" y="212" width="2" height="2" fill="#00f"/>
<rect x="4" y="210" width="6" height="6" fill="#00f"/>
<rect x="6" y="212" width="2" height="2" fill="#fff"/>
<rect x="1591" y="210" width="6" height="6" fill="#00f"/>
<rect x="1593" y="212" width="2" height="2" fill="#fff"/>
<rect x="1599" y="207" width="41" height="11" fill="#00f"/>
<text x="1603" y="216" font-size="10.2" fill="#fff" stroke="#fff" stroke-width="0.25" textLength="33" lengthAdjust="spacingAndGlyphs">0.71029</text>
<rect x="1597" y="265" width="2" height="2" fill="#00f"/>
<rect x="4" y="263" width="6" height="6" fill="#00f"/>
<rect x="6" y="265" width="2" height="2" fill="#fff"/>
<rect x="1591" y="263" width="6" height="6" fill="#00f"/>
<rect x="1593" y="265" width="2" height="2" fill="#fff"/>
<rect x="1599" y="260" width="41" height="11" fill="#00f"/>
<text x="1603" y="269" font-size="10.2" fill="#fff" stroke="#fff" stroke-width="0.25" textLength="33" lengthAdjust="spacingAndGlyphs">0.69995</text>
<rect x="1598" y="119" width="1" height="1" fill="#000"/>
<rect x="1599" y="119" width="41" height="11" fill="#000"/>
<text x="1603" y="128" font-size="10.2" fill="#fff" stroke="#fff" stroke-width="0.25" textLength="33" lengthAdjust="spacingAndGlyphs">0.72789</text>
<line x1="6" y1="617.5" x2="1598" y2="617.5" stroke="#c0c0c0" stroke-width="1" stroke-dasharray="3,3"/>
<line x1="6" y1="657.5" x2="1598" y2="657.5" stroke="#c0c0c0" stroke-width="1" stroke-dasharray="3,3"/>
<path d="M5 632h2v1h-2zM7 631h2v1h-2zM9 630h3v1h-3zM12 629h2v1h-2zM14 630h2v1h-2zM16 631h2v1h-2zM18 632h2v1h-2zM20 633h2v1h-2zM22 634h2v1h-2zM24 635h2v1h-2zM26 636h2v1h-2zM28 637h5v1h-5zM33 638h8v1h-8zM41 637h5v1h-5zM46 636h1v1h-1zM47 635h1v1h-1zM48 634h1v1h-1zM49 633h1v1h-1zM50 632h1v1h-1zM51 631h1v1h-1zM52 630h1v1h-1zM53 629h2v1h-2zM55 628h2v1h-2zM57 627h3v1h-3zM60 626h3v1h-3zM63 625h4v1h-4zM67 624h3v1h-3zM70 625h2v1h-2zM72 626h2v1h-2zM74 627h2v1h-2zM76 628h3v1h-3zM79 629h2v1h-2zM81 630h3v1h-3zM84 631h13v1h-13zM97 630h5v1h-5zM102 629h1v1h-1zM103 628h1v1h-1zM104 627h1v1h-1zM105 626h2v1h-2zM107 625h1v1h-1zM108 624h1v1h-1zM109 623h1v1h-1zM110 624h1v1h-1zM111 625h2v1h-2zM113 626h1v1h-1zM114 627h1v1h-1zM115 628h2v1h-2zM117 629h1v1h-1zM118 628h2v1h-2zM120 627h1v1h-1zM121 626h2v1h-2zM123 625h2v1h-2zM125 624h2v1h-2zM127 625h4v1h-4zM131 626h6v1h-6zM137 625h5v1h-5zM142 624h1v1h-1zM143 623h1v1h-1zM144 622h1v1h-1zM145 621h2v1h-2zM147 620h1v1h-1zM148 619h1v1h-1zM149 618h1v1h-1zM150 617h2v1h-2zM152 616h2v1h-2zM154 615h2v1h-2zM156 614h3v1h-3zM159 613h2v1h-2zM161 612h3v1h-3zM164 611h5v1h-5zM169 612h8v1h-8zM177 611h8v1h-8zM185 612h8v1h-8zM193 611h5v1h-5zM198 612h2v1h-2zM200 613h2v1h-2zM202 614h2v1h-2zM204 615h3v1h-3zM207 614h4v1h-4zM211 613h3v1h-3zM214 614h1v2h-1zM215 616h1v2h-1zM216 618h1v1h-1zM217 619h1v2h-1zM218 621h1v1h-1zM219 622h1v2h-1zM220 624h1v2h-1zM221 626h2v1h-2zM223 627h2v1h-2zM225 628h3v1h-3zM228 629h5v1h-5zM233 630h8v1h-8zM241 629h6v1h-6zM247 628h4v1h-4zM251 627h6v1h-6zM257 626h5v1h-5zM262 627h1v1h-1zM263 628h2v1h-2zM265 629h1v1h-1zM266 630h1v1h-1zM267 631h2v1h-2zM269 632h4v1h-4zM273 631h8v1h-8zM281 632h5v1h-5zM286 631h2v1h-2zM288 630h1v1h-1zM289 629h2v1h-2zM291 628h2v1h-2zM293 627h1v1h-1zM294 626h2v1h-2zM296 625h2v1h-2zM298 624h2v1h-2zM300 623h2v1h-2zM302 624h1v1h-1zM303 625h1v1h-1zM304 626h1v1h-1zM305 627h1v2h-1zM306 629h1v1h-1zM307 630h1v1h-1zM308 631h1v1h-1zM309 632h4v1h-4zM313 633h8v1h-8zM321 634h8v1h-8zM329 633h6v1h-6zM335 634h4v1h-4zM339 635h3v1h-3zM342 634h2v1h-2zM344 633h2v1h-2zM346 632h2v1h-2zM348 631h3v1h-3zM351 630h2v1h-2zM353 629h3v1h-3zM356 628h11v1h-11zM367 627h4v1h-4zM371 626h12v1h-12zM383 625h2v1h-2zM385 624h3v1h-3zM388 623h13v1h-13zM401 624h6v1h-6zM407 625h4v1h-4zM411 626h12v1h-12zM423 627h4v1h-4zM427 628h3v1h-3zM430 627h2v1h-2zM432 626h1v1h-1zM433 625h2v1h-2zM435 624h2v1h-2zM437 623h2v1h-2zM439 624h2v1h-2zM441 625h3v1h-3zM444 626h2v1h-2zM446 625h2v1h-2zM448 624h2v1h-2zM450 623h2v1h-2zM452 622h5v1h-5zM457 621h5v1h-5zM462 622h2v1h-2zM464 623h2v1h-2zM466 624h2v1h-2zM468 625h5v1h-5zM473 624h8v1h-8zM481 623h5v1h-5zM486 621h1v2h-1zM487 620h1v1h-1zM488 619h1v1h-1zM489 617h1v2h-1zM490 616h1v1h-1zM491 615h1v1h-1zM492 613h1v2h-1zM493 612h2v1h-2zM495 611h4v1h-4zM499 610h4v1h-4zM503 611h4v1h-4zM507 612h3v1h-3zM510 613h1v1h-1zM511 614h1v1h-1zM512 615h1v1h-1zM513 616h1v2h-1zM514 618h1v1h-1zM515 619h1v1h-1zM516 620h1v1h-1zM517 621h9v1h-9zM526 620h2v1h-2zM528 619h2v1h-2zM530 618h2v1h-2zM532 617h3v1h-3zM535 616h4v1h-4zM539 615h6v1h-6zM545 614h5v1h-5zM550 615h1v1h-1zM551 616h1v1h-1zM552 617h1v1h-1zM553 618h2v1h-2zM555 619h1v1h-1zM556 620h1v1h-1zM557 621h2v1h-2zM559 620h4v1h-4zM563 619h4v1h-4zM567 620h4v1h-4zM571 621h3v1h-3zM574 622h1v1h-1zM575 623h1v1h-1zM576 624h1v1h-1zM577 625h1v1h-1zM578 626h1v1h-1zM579 627h1v1h-1zM580 628h1v1h-1zM581 629h1v1h-1zM582 628h2v1h-2zM584 627h2v1h-2zM586 626h2v1h-2zM588 625h2v1h-2zM590 624h1v1h-1zM591 623h1v1h-1zM592 622h1v1h-1zM593 621h2v1h-2zM595 620h1v1h-1zM596 619h1v1h-1zM597 618h4v1h-4zM601 617h5v1h-5zM606 618h1v2h-1zM607 620h1v1h-1zM608 621h1v1h-1zM609 622h1v2h-1zM610 624h1v1h-1zM611 625h1v1h-1zM612 626h1v2h-1zM613 628h2v1h-2zM615 629h4v1h-4zM619 630h4v1h-4zM623 629h4v1h-4zM627 628h4v1h-4zM631 629h4v1h-4zM635 630h4v1h-4zM639 629h4v1h-4zM643 628h6v1h-6zM649 629h8v1h-8zM657 628h8v1h-8zM665 627h5v1h-5zM670 626h2v1h-2zM672 625h2v1h-2zM674 624h2v1h-2zM676 623h3v1h-3zM679 622h2v1h-2zM681 621h3v1h-3zM684 620h10v1h-10zM694 621h1v2h-1zM695 623h1v1h-1zM696 624h1v2h-1zM697 626h1v1h-1zM698 627h1v2h-1zM699 629h1v1h-1zM700 630h1v2h-1zM701 632h2v1h-2zM703 633h2v1h-2zM705 634h3v1h-3zM708 635h11v1h-11zM719 634h4v1h-4zM723 633h6v1h-6zM729 632h5v1h-5zM734 631h1v1h-1zM735 630h2v1h-2zM737 629h1v1h-1zM738 628h1v1h-1zM739 627h2v1h-2zM741 626h1v1h-1zM742 625h2v1h-2zM744 624h1v1h-1zM745 623h2v1h-2zM747 622h2v1h-2zM749 621h1v1h-1zM750 620h1v1h-1zM751 619h1v1h-1zM752 618h1v1h-1zM753 617h1v1h-1zM754 616h1v1h-1zM755 615h1v1h-1zM756 614h1v1h-1zM757 613h10v1h-10zM767 612h4v1h-4zM771 611h4v1h-4zM775 612h2v1h-2zM777 613h3v1h-3zM780 614h2v1h-2zM782 615h1v1h-1zM783 616h1v2h-1zM784 618h1v1h-1zM785 619h1v1h-1zM786 620h1v1h-1zM787 621h1v2h-1zM788 623h1v1h-1zM789 624h1v1h-1zM790 625h1v1h-1zM791 626h1v1h-1zM792 627h1v1h-1zM793 628h1v1h-1zM794 629h1v1h-1zM795 630h1v1h-1zM796 631h1v1h-1zM797 632h10v1h-10zM807 631h2v1h-2zM809 630h3v1h-3zM812 629h3v1h-3zM815 630h4v1h-4zM819 631h3v1h-3zM822 632h1v1h-1zM823 633h1v1h-1zM824 634h1v1h-1zM825 635h2v1h-2zM827 636h1v1h-1zM828 637h1v1h-1zM829 638h1v1h-1zM830 637h2v1h-2zM832 636h1v1h-1zM833 635h2v1h-2zM835 634h2v1h-2zM837 633h4v1h-4zM841 632h8v1h-8zM849 633h14v1h-14zM863 632h2v1h-2zM865 631h3v1h-3zM868 630h5v1h-5zM873 631h5v1h-5zM878 630h2v1h-2zM880 629h1v1h-1zM881 628h2v1h-2zM883 627h2v1h-2zM885 626h1v1h-1zM886 627h1v1h-1zM887 628h1v1h-1zM888 629h1v1h-1zM889 630h1v1h-1zM890 631h1v1h-1zM891 632h1v1h-1zM892 633h1v1h-1zM893 634h2v1h-2zM895 633h2v1h-2zM897 632h3v1h-3zM900 631h5v1h-5zM905 632h5v1h-5zM910 633h1v2h-1zM911 635h1v1h-1zM912 636h1v2h-1zM913 638h1v1h-1zM914 639h1v2h-1zM915 641h1v1h-1zM916 642h1v2h-1zM917 644h1v1h-1zM918 645h2v1h-2zM920 646h2v1h-2zM922 647h2v1h-2zM924 648h2v1h-2zM926 649h1v1h-1zM927 650h1v1h-1zM928 651h1v1h-1zM929 652h2v1h-2zM931 653h1v1h-1zM932 654h1v1h-1zM933 655h2v1h-2zM935 656h2v1h-2zM937 657h3v1h-3zM940 658h3v1h-3zM943 659h4v1h-4zM947 660h4v1h-4zM951 659h4v1h-4zM955 658h3v1h-3zM958 657h1v1h-1zM959 656h1v1h-1zM960 655h1v1h-1zM961 654h2v1h-2zM963 653h1v1h-1zM964 652h1v1h-1zM965 651h1v1h-1zM966 650h2v1h-2zM968 649h1v1h-1zM969 648h2v1h-2zM971 647h2v1h-2zM973 646h1v1h-1zM974 645h1v1h-1zM975 644h2v1h-2zM977 643h1v1h-1zM978 642h1v1h-1zM979 641h2v1h-2zM981 640h2v1h-2zM983 639h2v1h-2zM985 638h3v1h-3zM988 637h2v1h-2zM990 638h2v1h-2zM992 639h2v1h-2zM994 640h2v1h-2zM996 641h5v1h-5zM1001 640h6v1h-6zM1007 639h4v1h-4zM1011 638h4v1h-4zM1015 639h2v1h-2zM1017 640h3v1h-3zM1020 641h5v1h-5zM1025 642h6v1h-6zM1031 641h4v1h-4zM1035 640h3v1h-3zM1038 639h1v1h-1zM1039 638h1v1h-1zM1040 637h1v1h-1zM1041 635h1v2h-1zM1042 634h1v1h-1zM1043 633h1v1h-1zM1044 632h1v1h-1zM1045 631h9v1h-9zM1054 632h2v1h-2zM1056 633h2v1h-2zM1058 634h2v1h-2zM1060 635h2v1h-2zM1062 636h2v1h-2zM1064 637h1v1h-1zM1065 638h2v1h-2zM1067 639h2v1h-2zM1069 640h4v1h-4zM1073 639h5v1h-5zM1078 640h1v1h-1zM1079 641h1v1h-1zM1080 642h1v1h-1zM1081 643h1v2h-1zM1082 645h1v1h-1zM1083 646h1v1h-1zM1084 647h1v1h-1zM1085 648h12v1h-12zM1097 647h14v1h-14zM1111 648h2v1h-2zM1113 649h3v1h-3zM1116 650h2v1h-2zM1118 649h1v1h-1zM1119 648h1v1h-1zM1120 647h1v1h-1zM1121 645h1v2h-1zM1122 644h1v1h-1zM1123 643h1v1h-1zM1124 642h1v1h-1zM1125 641h4v1h-4zM1129 642h8v1h-8zM1137 641h6v1h-6zM1143 640h4v1h-4zM1147 639h4v1h-4zM1151 640h4v1h-4zM1155 641h3v1h-3zM1158 640h2v1h-2zM1160 639h2v1h-2zM1162 638h2v1h-2zM1164 637h2v1h-2zM1166 638h1v1h-1zM1167 639h1v1h-1zM1168 640h1v1h-1zM1169 641h1v2h-1zM1170 643h1v1h-1zM1171 644h1v1h-1zM1172 645h1v1h-1zM1173 646h1v1h-1zM1174 647h1v1h-1zM1175 648h2v1h-2zM1177 649h1v1h-1zM1178 650h1v1h-1zM1179 651h2v1h-2zM1181 652h2v1h-2zM1183 651h4v1h-4zM1187 650h6v1h-6zM1193 649h6v1h-6zM1199 648h4v1h-4zM1203 647h3v1h-3zM1206 645h1v2h-1zM1207 643h1v2h-1zM1208 641h1v2h-1zM1209 639h1v2h-1zM1210 637h1v2h-1zM1211 635h1v2h-1zM1212 633h1v2h-1zM1213 631h4v1h-4zM1213 632h1v1h-1zM1217 632h5v1h-5zM1222 631h1v1h-1zM1223 630h1v1h-1zM1224 629h1v1h-1zM1225 627h1v2h-1zM1226 626h1v1h-1zM1227 625h1v1h-1zM1228 624h1v1h-1zM1229 623h12v1h-12zM1241 624h6v1h-6zM1247 623h2v1h-2zM1249 622h3v1h-3zM1252 621h3v1h-3zM1255 622h2v1h-2zM1257 623h3v1h-3zM1260 624h2v1h-2z" fill="#1e90ff"/>
<text x="9" y="598.6" font-size="10.2" fill="#000" stroke="#000" stroke-width="0.25" textLength="67.4" lengthAdjust="spacingAndGlyphs">RSI(14) 63.7531</text>
<rect x="1598" y="587" width="1" height="1" fill="#000"/>
<rect x="1598" y="687" width="1" height="1" fill="#000"/>
<text x="1601.2" y="597" font-size="10.2" fill="#000" stroke="#000" stroke-width="0.25" textLength="15.5" lengthAdjust="spacingAndGlyphs">100</text>
<text x="1600.2" y="621" font-size="10.2" fill="#000" stroke="#000" stroke-width="0.25" textLength="10.2" lengthAdjust="spacingAndGlyphs">70</text>
<text x="1600.2" y="661" font-size="10.2" fill="#000" stroke="#000" stroke-width="0.25" textLength="10.2" lengthAdjust="spacingAndGlyphs">30</text>
<text x="1601.2" y="685" font-size="10.2" fill="#000" stroke="#000" stroke-width="0.25" textLength="5" lengthAdjust="spacingAndGlyphs">0</text>
<rect x="5" y="735" width="1" height="28" fill="#c0c0c0"/>
<rect x="13" y="737" width="1" height="26" fill="#c0c0c0"/>
<rect x="21" y="739" width="1" height="24" fill="#c0c0c0"/>
<rect x="29" y="743" width="1" height="20" fill="#c0c0c0"/>
<rect x="37" y="746" width="1" height="17" fill="#c0c0c0"/>
<rect x="45" y="749" width="1" height="14" fill="#c0c0c0"/>
<rect x="53" y="748" width="1" height="15" fill="#c0c0c0"/>
<rect x="61" y="745" width="1" height="18" fill="#c0c0c0"/>
<rect x="69" y="742" width="1" height="21" fill="#c0c0c0"/>
<rect x="77" y="740" width="1" height="23" fill="#c0c0c0"/>
<rect x="85" y="741" width="1" height="22" fill="#c0c0c0"/>
<rect x="93" y="742" width="1" height="21" fill="#c0c0c0"/>
<rect x="101" y="742" width="1" height="21" fill="#c0c0c0"/>
<rect x="109" y="739" width="1" height="24" fill="#c0c0c0"/>
<rect x="117" y="739" width="1" height="24" fill="#c0c0c0"/>
<rect x="125" y="736" width="1" height="27" fill="#c0c0c0"/>
<rect x="133" y="735" width="1" height="28" fill="#c0c0c0"/>
<rect x="141" y="734" width="1" height="29" fill="#c0c0c0"/>
<rect x="149" y="729" width="1" height="34" fill="#c0c0c0"/>
<rect x="157" y="722" width="1" height="41" fill="#c0c0c0"/>
<rect x="165" y="714" width="1" height="49" fill="#c0c0c0"/>
<rect x="173" y="708" width="1" height="55" fill="#c0c0c0"/>
<rect x="181" y="703" width="1" height="60" fill="#c0c0c0"/>
<rect x="189" y="700" width="1" height="63" fill="#c0c0c0"/>
<rect x="197" y="698" width="1" height="65" fill="#c0c0c0"/>
<rect x="205" y="698" width="1" height="65" fill="#c0c0c0"/>
<rect x="213" y="697" width="1" height="66" fill="#c0c0c0"/>
<rect x="221" y="701" width="1" height="62" fill="#c0c0c0"/>
<rect x="229" y="707" width="1" height="56" fill="#c0c0c0"/>
<rect x="237" y="712" width="1" height="51" fill="#c0c0c0"/>
<rect x="245" y="717" width="1" height="46" fill="#c0c0c0"/>
<rect x="253" y="720" width="1" height="43" fill="#c0c0c0"/>
<rect x="261" y="722" width="1" height="41" fill="#c0c0c0"/>
<rect x="269" y="726" width="1" height="37" fill="#c0c0c0"/>
<rect x="277" y="729" width="1" height="34" fill="#c0c0c0"/>
<rect x="285" y="733" width="1" height="30" fill="#c0c0c0"/>
<rect x="293" y="733" width="1" height="30" fill="#c0c0c0"/>
<rect x="301" y="732" width="1" height="31" fill="#c0c0c0"/>
<rect x="309" y="735" width="1" height="28" fill="#c0c0c0"/>
<rect x="317" y="738" width="1" height="25" fill="#c0c0c0"/>
<rect x="325" y="740" width="1" height="23" fill="#c0c0c0"/>
<rect x="333" y="742" width="1" height="21" fill="#c0c0c0"/>
<rect x="341" y="745" width="1" height="18" fill="#c0c0c0"/>
<rect x="349" y="745" width="1" height="18" fill="#c0c0c0"/>
<rect x="357" y="745" width="1" height="18" fill="#c0c0c0"/>
<rect x="365" y="745" width="1" height="18" fill="#c0c0c0"/>
<rect x="373" y="744" width="1" height="19" fill="#c0c0c0"/>
<rect x="381" y="744" width="1" height="19" fill="#c0c0c0"/>
<rect x="389" y="743" width="1" height="20" fill="#c0c0c0"/>
<rect x="397" y="742" width="1" height="21" fill="#c0c0c0"/>
<rect x="405" y="742" width="1" height="21" fill="#c0c0c0"/>
<rect x="413" y="742" width="1" height="21" fill="#c0c0c0"/>
<rect x="421" y="743" width="1" height="20" fill="#c0c0c0"/>
<rect x="429" y="744" width="1" height="19" fill="#c0c0c0"/>
<rect x="437" y="743" width="1" height="20" fill="#c0c0c0"/>
<rect x="445" y="744" width="1" height="19" fill="#c0c0c0"/>
<rect x="453" y="743" width="1" height="20" fill="#c0c0c0"/>
<rect x="461" y="742" width="1" height="21" fill="#c0c0c0"/>
<rect x="469" y="744" width="1" height="19" fill="#c0c0c0"/>
<rect x="477" y="744" width="1" height="19" fill="#c0c0c0"/>
<rect x="485" y="744" width="1" height="19" fill="#c0c0c0"/>
<rect x="493" y="740" width="1" height="23" fill="#c0c0c0"/>
<rect x="501" y="737" width="1" height="26" fill="#c0c0c0"/>
<rect x="509" y="734" width="1" height="29" fill="#c0c0c0"/>
<rect x="517" y="734" width="1" height="29" fill="#c0c0c0"/>
<rect x="525" y="735" width="1" height="28" fill="#c0c0c0"/>
<rect x="533" y="734" width="1" height="29" fill="#c0c0c0"/>
<rect x="541" y="732" width="1" height="31" fill="#c0c0c0"/>
<rect x="549" y="731" width="1" height="32" fill="#c0c0c0"/>
<rect x="557" y="732" width="1" height="31" fill="#c0c0c0"/>
<rect x="565" y="732" width="1" height="31" fill="#c0c0c0"/>
<rect x="573" y="733" width="1" height="30" fill="#c0c0c0"/>
<rect x="581" y="736" width="1" height="27" fill="#c0c0c0"/>
<rect x="589" y="737" width="1" height="26" fill="#c0c0c0"/>
<rect x="597" y="735" width="1" height="28" fill="#c0c0c0"/>
<rect x="605" y="733" width="1" height="30" fill="#c0c0c0"/>
<rect x="613" y="735" width="1" height="28" fill="#c0c0c0"/>
<rect x="621" y="737" width="1" height="26" fill="#c0c0c0"/>
<rect x="629" y="739" width="1" height="24" fill="#c0c0c0"/>
<rect x="637" y="741" width="1" height="22" fill="#c0c0c0"/>
<rect x="645" y="742" width="1" height="21" fill="#c0c0c0"/>
<rect x="653" y="743" width="1" height="20" fill="#c0c0c0"/>
<rect x="661" y="744" width="1" height="19" fill="#c0c0c0"/>
<rect x="669" y="745" width="1" height="18" fill="#c0c0c0"/>
<rect x="677" y="744" width="1" height="19" fill="#c0c0c0"/>
<rect x="685" y="743" width="1" height="20" fill="#c0c0c0"/>
<rect x="693" y="743" width="1" height="20" fill="#c0c0c0"/>
<rect x="701" y="744" width="1" height="19" fill="#c0c0c0"/>
<rect x="709" y="747" width="1" height="16" fill="#c0c0c0"/>
<rect x="717" y="749" width="1" height="14" fill="#c0c0c0"/>
<rect x="725" y="750" width="1" height="13" fill="#c0c0c0"/>
<rect x="733" y="751" width="1" height="12" fill="#c0c0c0"/>
<rect x="741" y="750" width="1" height="13" fill="#c0c0c0"/>
<rect x="749" y="748" width="1" height="15" fill="#c0c0c0"/>
<rect x="757" y="744" width="1" height="19" fill="#c0c0c0"/>
<rect x="765" y="740" width="1" height="23" fill="#c0c0c0"/>
<rect x="773" y="736" width="1" height="27" fill="#c0c0c0"/>
<rect x="781" y="734" width="1" height="29" fill="#c0c0c0"/>
<rect x="789" y="734" width="1" height="29" fill="#c0c0c0"/>
<rect x="797" y="737" width="1" height="26" fill="#c0c0c0"/>
<rect x="805" y="740" width="1" height="23" fill="#c0c0c0"/>
<rect x="813" y="741" width="1" height="22" fill="#c0c0c0"/>
<rect x="821" y="743" width="1" height="20" fill="#c0c0c0"/>
<rect x="829" y="746" width="1" height="17" fill="#c0c0c0"/>
<rect x="837" y="748" width="1" height="15" fill="#c0c0c0"/>
<rect x="845" y="748" width="1" height="15" fill="#c0c0c0"/>
<rect x="853" y="749" width="1" height="14" fill="#c0c0c0"/>
<rect x="861" y="751" width="1" height="12" fill="#c0c0c0"/>
<rect x="869" y="751" width="1" height="12" fill="#c0c0c0"/>
<rect x="877" y="751" width="1" height="12" fill="#c0c0c0"/>
<rect x="885" y="750" width="1" height="13" fill="#c0c0c0"/>
<rect x="893" y="751" width="1" height="12" fill="#c0c0c0"/>
<rect x="901" y="751" width="1" height="12" fill="#c0c0c0"/>
<rect x="909" y="752" width="1" height="11" fill="#c0c0c0"/>
<rect x="917" y="756" width="1" height="7" fill="#c0c0c0"/>
<rect x="925" y="760" width="1" height="3" fill="#c0c0c0"/>
<rect x="933" y="762" width="1" height="3" fill="#c0c0c0"/>
<rect x="941" y="762" width="1" height="10" fill="#c0c0c0"/>
<rect x="949" y="762" width="1" height="18" fill="#c0c0c0"/>
<rect x="957" y="762" width="1" height="22" fill="#c0c0c0"/>
<rect x="965" y="762" width="1" height="24" fill="#c0c0c0"/>
<rect x="973" y="762" width="1" height="22" fill="#c0c0c0"/>
<rect x="981" y="762" width="1" height="20" fill="#c0c0c0"/>
<rect x="989" y="762" width="1" height="16" fill="#c0c0c0"/>
<rect x="997" y="762" width="1" height="16" fill="#c0c0c0"/>
<rect x="1005" y="762" width="1" height="14" fill="#c0c0c0"/>
<rect x="1013" y="762" width="1" height="11" fill="#c0c0c0"/>
<rect x="1021" y="762" width="1" height="11" fill="#c0c0c0"/>
<rect x="1029" y="762" width="1" height="10" fill="#c0c0c0"/>
<rect x="1037" y="762" width="1" height="9" fill="#c0c0c0"/>
<rect x="1045" y="762" width="1" height="5" fill="#c0c0c0"/>
<rect x="1053" y="762" width="1" height="2" fill="#c0c0c0"/>
<rect x="1061" y="762" width="1" height="1" fill="#c0c0c0"/>
<rect x="1069" y="762" width="1" height="1" fill="#c0c0c0"/>
<rect x="1077" y="762" width="1" height="1" fill="#c0c0c0"/>
<rect x="1085" y="762" width="1" height="6" fill="#c0c0c0"/>
<rect x="1093" y="762" width="1" height="8" fill="#c0c0c0"/>
<rect x="1101" y="762" width="1" height="9" fill="#c0c0c0"/>
<rect x="1109" y="762" width="1" height="11" fill="#c0c0c0"/>
<rect x="1117" y="762" width="1" height="14" fill="#c0c0c0"/>
<rect x="1125" y="762" width="1" height="12" fill="#c0c0c0"/>
<rect x="1133" y="762" width="1" height="11" fill="#c0c0c0"/>
<rect x="1141" y="762" width="1" height="10" fill="#c0c0c0"/>
<rect x="1149" y="762" width="1" height="9" fill="#c0c0c0"/>
<rect x="1157" y="762" width="1" height="8" fill="#c0c0c0"/>
<rect x="1165" y="762" width="1" height="7" fill="#c0c0c0"/>
<rect x="1173" y="762" width="1" height="8" fill="#c0c0c0"/>
<rect x="1181" y="762" width="1" height="12" fill="#c0c0c0"/>
<rect x="1189" y="762" width="1" height="14" fill="#c0c0c0"/>
<rect x="1197" y="762" width="1" height="16" fill="#c0c0c0"/>
<rect x="1205" y="762" width="1" height="16" fill="#c0c0c0"/>
<rect x="1213" y="762" width="1" height="10" fill="#c0c0c0"/>
<rect x="1221" y="762" width="1" height="7" fill="#c0c0c0"/>
<rect x="1229" y="762" width="1" height="1" fill="#c0c0c0"/>
<rect x="1237" y="758" width="1" height="5" fill="#c0c0c0"/>
<rect x="1245" y="754" width="1" height="9" fill="#c0c0c0"/>
<rect x="1253" y="750" width="1" height="13" fill="#c0c0c0"/>
<rect x="1261" y="747" width="1" height="16" fill="#c0c0c0"/>
<path d="M4 735h3v1h-3zM10 735h3v1h-3zM16 735h3v1h-3zM22 736h3v1h-3zM28 737h3v1h-3zM34 738h3v1h-3zM40 739h3v1h-3zM46 739h1v1h-1zM47 740h2v1h-2zM52 740h3v1h-3zM58 740h1v1h-1zM59 741h2v1h-2zM64 741h3v1h-3zM70 741h1v1h-1zM71 742h2v1h-2zM76 742h3v1h-3zM82 742h1v1h-1zM83 743h2v1h-2zM88 743h3v1h-3zM94 743h3v1h-3zM100 743h3v1h-3zM106 743h1v1h-1zM107 742h2v1h-2zM112 742h3v1h-3zM118 741h3v1h-3zM124 740h2v1h-2zM126 739h1v1h-1zM130 738h3v1h-3zM136 738h3v1h-3zM142 737h3v1h-3zM148 737h3v1h-3zM154 735h2v1h-2zM156 734h1v1h-1zM160 733h2v1h-2zM162 732h1v1h-1zM166 730h2v1h-2zM168 729h1v1h-1zM172 727h2v1h-2zM174 726h1v1h-1zM178 724h2v1h-2zM180 723h1v1h-1zM184 721h2v1h-2zM186 720h1v1h-1zM190 718h2v1h-2zM192 717h1v1h-1zM196 715h3v1h-3zM202 713h1v1h-1zM203 712h2v1h-2zM208 710h1v1h-1zM209 709h2v1h-2zM214 706h2v1h-2zM216 705h1v1h-1zM220 703h3v1h-3zM226 702h3v1h-3zM232 702h3v1h-3zM238 703h3v1h-3zM244 703h3v1h-3zM250 704h1v1h-1zM251 705h2v1h-2zM256 706h2v1h-2zM258 707h1v1h-1zM262 708h3v1h-3zM268 709h1v1h-1zM269 710h2v1h-2zM274 712h1v1h-1zM275 713h2v1h-2zM280 715h1v1h-1zM281 716h2v1h-2zM286 718h3v1h-3zM292 720h2v1h-2zM294 721h1v1h-1zM298 723h2v1h-2zM300 724h1v1h-1zM304 725h3v1h-3zM310 726h1v1h-1zM311 727h2v1h-2zM316 728h3v1h-3zM322 730h3v1h-3zM324 731h1v1h-1zM328 731h1v1h-1zM329 732h2v1h-2zM334 733h2v1h-2zM336 734h1v1h-1zM340 735h3v1h-3zM346 736h1v1h-1zM347 737h2v1h-2zM352 738h3v1h-3zM358 739h3v1h-3zM364 740h3v1h-3zM370 741h3v1h-3zM376 742h3v1h-3zM382 742h2v1h-2zM384 743h1v1h-1zM388 743h3v1h-3zM394 743h3v1h-3zM400 743h3v1h-3zM406 743h3v1h-3zM412 743h3v1h-3zM418 742h3v1h-3zM424 742h3v1h-3zM430 742h3v1h-3zM436 742h3v1h-3zM442 742h3v1h-3zM448 742h3v1h-3zM454 742h3v1h-3zM460 742h3v1h-3zM466 742h3v1h-3zM472 742h2v1h-2zM474 743h1v1h-1zM478 743h3v1h-3zM484 743h3v1h-3zM490 743h3v1h-3zM496 743h1v1h-1zM497 742h2v1h-2zM502 742h3v1h-3zM508 741h3v1h-3zM514 740h3v1h-3zM520 739h2v1h-2zM522 738h1v1h-1zM526 737h3v1h-3zM532 737h2v1h-2zM534 736h1v1h-1zM538 736h3v1h-3zM544 735h3v1h-3zM550 734h3v1h-3zM556 733h3v1h-3zM562 733h1v1h-1zM563 732h2v1h-2zM568 732h3v1h-3zM574 732h3v1h-3zM580 732h3v1h-3zM586 732h3v1h-3zM592 732h3v1h-3zM598 732h3v1h-3zM604 733h3v1h-3zM610 733h3v1h-3zM616 733h3v1h-3zM622 734h3v1h-3zM628 734h3v1h-3zM634 735h3v1h-3zM640 735h3v1h-3zM646 736h3v1h-3zM652 736h3v1h-3zM658 737h3v1h-3zM664 738h3v1h-3zM670 739h3v1h-3zM676 739h1v1h-1zM677 740h2v1h-2zM682 740h3v1h-3zM688 741h3v1h-3zM694 742h3v1h-3zM700 742h1v1h-1zM701 743h2v1h-2zM706 743h3v1h-3zM712 744h3v1h-3zM718 744h2v1h-2zM720 745h1v1h-1zM724 745h3v1h-3zM730 745h2v1h-2zM732 746h1v1h-1zM736 746h3v1h-3zM742 746h3v1h-3zM748 746h3v1h-3zM754 746h3v1h-3zM760 746h3v1h-3zM766 746h3v1h-3zM772 745h3v1h-3zM778 744h3v1h-3zM784 743h3v1h-3zM790 742h1v1h-1zM791 741h2v1h-2zM796 740h3v1h-3zM802 739h3v1h-3zM808 738h3v1h-3zM814 738h3v1h-3zM820 738h3v1h-3zM826 738h3v1h-3zM832 738h3v1h-3zM838 739h3v1h-3zM844 740h3v1h-3zM850 741h2v1h-2zM852 742h1v1h-1zM856 743h3v1h-3zM862 744h3v1h-3zM868 744h2v1h-2zM870 745h1v1h-1zM874 745h2v1h-2zM876 746h1v1h-1zM880 747h1v1h-1zM881 748h2v1h-2zM886 748h3v1h-3zM892 748h3v1h-3zM898 749h3v1h-3zM904 749h3v1h-3zM910 749h3v1h-3zM916 750h3v1h-3zM922 750h3v1h-3zM928 751h3v1h-3zM934 753h1v1h-1zM935 754h2v1h-2zM940 756h3v1h-3zM946 758h1v1h-1zM947 759h2v1h-2zM952 761h3v1h-3zM958 763h2v1h-2zM960 764h1v1h-1zM964 766h1v1h-1zM965 767h2v1h-2zM966 768h2v1h-2zM968 769h1v1h-1zM972 771h2v1h-2zM974 772h1v1h-1zM978 774h2v1h-2zM980 775h1v1h-1zM984 776h2v1h-2zM986 777h1v1h-1zM990 777h1v1h-1zM991 778h2v1h-2zM996 779h3v1h-3zM1002 780h3v1h-3zM1008 781h3v1h-3zM1014 780h3v1h-3zM1020 779h3v1h-3zM1026 778h3v1h-3zM1032 777h3v1h-3zM1038 776h1v1h-1zM1039 775h2v1h-2zM1044 774h3v1h-3zM1050 773h3v1h-3zM1056 773h2v1h-2zM1058 772h1v1h-1zM1062 772h1v1h-1zM1063 771h2v1h-2zM1068 769h3v1h-3zM1074 769h3v1h-3zM1080 769h3v1h-3zM1086 768h3v1h-3zM1092 768h3v1h-3zM1098 768h3v1h-3zM1104 768h3v1h-3zM1110 768h3v1h-3zM1116 769h3v1h-3zM1122 769h1v1h-1zM1123 770h2v1h-2zM1128 770h2v1h-2zM1130 771h1v1h-1zM1134 771h3v1h-3zM1140 772h3v1h-3zM1146 773h3v1h-3zM1152 773h3v1h-3zM1158 773h3v1h-3zM1164 773h3v1h-3zM1170 773h3v1h-3zM1176 773h3v1h-3zM1182 773h3v1h-3zM1188 773h3v1h-3zM1194 773h3v1h-3zM1200 773h2v1h-2zM1202 774h1v1h-1zM1206 774h3v1h-3zM1212 774h3v1h-3zM1218 774h3v1h-3zM1224 773h3v1h-3zM1230 772h3v1h-3zM1236 771h3v1h-3zM1242 770h1v1h-1zM1243 769h2v1h-2zM1248 768h1v1h-1zM1249 767h2v1h-2zM1254 765h2v1h-2zM1256 764h1v1h-1zM1260 762h1v1h-1z" fill="#f00"/>
<text x="9.7" y="703" font-size="10.2" fill="#000" stroke="#000" stroke-width="0.25" textLength="150.2" lengthAdjust="spacingAndGlyphs">MACD(12,26,9) 0.003400 -0.000150</text>
<rect x="1598" y="692" width="1" height="1" fill="#000"/>
<rect x="1598" y="762" width="1" height="1" fill="#000"/>
<rect x="1598" y="790" width="1" height="1" fill="#000"/>
<text x="1601.2" y="701" font-size="10.2" fill="#000" stroke="#000" stroke-width="0.25" textLength="37.4" lengthAdjust="spacingAndGlyphs">0.014861</text>
<text x="1601.2" y="766" font-size="10.2" fill="#000" stroke="#000" stroke-width="0.25" textLength="18.2" lengthAdjust="spacingAndGlyphs">0.00</text>
<text x="1601.2" y="787.6" font-size="10.2" fill="#000" stroke="#000" stroke-width="0.25" textLength="41" lengthAdjust="spacingAndGlyphs">-0.005938</text>
<rect x="5" y="792" width="1" height="3" fill="#000"/>
<text x="4.5" y="803.8" font-size="10.2" fill="#000" stroke="#000" stroke-width="0.25" textLength="54" lengthAdjust="spacingAndGlyphs">11 May 2020</text>
<rect x="69" y="792" width="1" height="3" fill="#000"/>
<text x="68.5" y="803.8" font-size="10.2" fill="#000" stroke="#000" stroke-width="0.25" textLength="54" lengthAdjust="spacingAndGlyphs">20 May 2020</text>
<rect x="133" y="792" width="1" height="3" fill="#000"/>
<text x="132.5" y="803.8" font-size="10.2" fill="#000" stroke="#000" stroke-width="0.25" textLength="54" lengthAdjust="spacingAndGlyphs">29 May 2020</text>
<rect x="197" y="792" width="1" height="3" fill="#000"/>
<text x="196.5" y="803.8" font-size="10.2" fill="#000" stroke="#000" stroke-width="0.25" textLength="43.7" lengthAdjust="spacingAndGlyphs">8 Jun 2020</text>
<rect x="261" y="792" width="1" height="3" fill="#000"/>
<text x="260.5" y="803.8" font-size="10.2" fill="#000" stroke="#000" stroke-width="0.25" textLength="48.7" lengthAdjust="spacingAndGlyphs">17 Jun 2020</text>
<rect x="325" y="792" width="1" height="3" fill="#000"/>
<text x="324.5" y="803.8" font-size="10.2" fill="#000" stroke="#000" stroke-width="0.25" textLength="48.9" lengthAdjust="spacingAndGlyphs">26 Jun 2020</text>
<rect x="389" y="792" width="1" height="3" fill="#000"/>
<text x="388.5" y="803.8" font-size="10.2" fill="#000" stroke="#000" stroke-width="0.25" textLength="42.2" lengthAdjust="spacingAndGlyphs">6 Jul 2020</text>
<rect x="453" y="792" width="1" height="3" fill="#000"/>
<text x="452.5" y="803.8" font-size="10.2" fill="#000" stroke="#000" stroke-width="0.25" textLength="46.6" lengthAdjust="spacingAndGlyphs">15 Jul 2020</text>
<rect x="517" y="792" width="1" height="3" fill="#000"/>
<text x="516.5" y="803.8" font-size="10.2" fill="#000" stroke="#000" stroke-width="0.25" textLength="46.6" lengthAdjust="spacingAndGlyphs">24 Jul 2020</text>
<rect x="581" y="792" width="1" height="3" fill="#000"/>
<text x="580.5" y="803.8" font-size="10.2" fill="#000" stroke="#000" stroke-width="0.25" textLength="47.9" lengthAdjust="spacingAndGlyphs">3 Aug 2020</text>
<rect x="645" y="792" width="1" height="3" fill="#000"/>
<text x="644.5" y="803.8" font-size="10.2" fill="#000" stroke="#000" stroke-width="0.25" textLength="52.1" lengthAdjust="spacingAndGlyphs">12 Aug 2020</text>
<rect x="709" y="792" width="1" height="3" fill="#000"/>
<text x="708.5" y="803.8" font-size="10.2" fill="#000" stroke="#000" stroke-width="0.25" textLength="52.1" lengthAdjust="spacingAndGlyphs">21 Aug 2020</text>
<rect x="773" y="792" width="1" height="3" fill="#000"/>
<text x="772.5" y="803.8" font-size="10.2" fill="#000" stroke="#000" stroke-width="0.25" textLength="52.1" lengthAdjust="spacingAndGlyphs">31 Aug 2020</text>
<rect x="837" y="792" width="1" height="3" fill="#000"/>
<text x="836.5" y="803.8" font-size="10.2" fill="#000" stroke="#000" stroke-width="0.25" textLength="46.7" lengthAdjust="spacingAndGlyphs">9 Sep 2020</text>
<rect x="901" y="792" width="1" height="3" fill="#000"/>
<text x="900.5" y="803.8" font-size="10.2" fill="#000" stroke="#000" stroke-width="0.25" textLength="51.5" lengthAdjust="spacingAndGlyphs">18 Sep 2020</text>
<rect x="965" y="792" width="1" height="3" fill="#000"/>
<text x="964.5" y="803.8" font-size="10.2" fill="#000" stroke="#000" stroke-width="0.25" textLength="51.5" lengthAdjust="spacingAndGlyphs">28 Sep 2020</text>
<rect x="1029" y="792" width="1" height="3" fill="#000"/>
<text x="1028.5" y="803.8" font-size="10.2" fill="#000" stroke="#000" stroke-width="0.25" textLength="45.3" lengthAdjust="spacingAndGlyphs">7 Oct 2020</text>
<rect x="1093" y="792" width="1" height="3" fill="#000"/>
<text x="1092.5" y="803.8" font-size="10.2" fill="#000" stroke="#000" stroke-width="0.25" textLength="50.7" lengthAdjust="spacingAndGlyphs">16 Oct 2020</text>
<rect x="1157" y="792" width="1" height="3" fill="#000"/>
<text x="1156.5" y="803.8" font-size="10.2" fill="#000" stroke="#000" stroke-width="0.25" textLength="50.5" lengthAdjust="spacingAndGlyphs">26 Oct 2020</text>
<rect x="1221" y="792" width="1" height="3" fill="#000"/>
<text x="1220.5" y="803.8" font-size="10.2" fill="#000" stroke="#000" stroke-width="0.25" textLength="48.1" lengthAdjust="spacingAndGlyphs">4 Nov 2020</text>
<rect x="1" y="812" width="1641" height="1" fill="#e3e3e3"/>
<rect x="0" y="814" width="1641" height="1" fill="#000"/>
<rect x="0" y="815" width="1641" height="1" fill="#fff"/>
<rect x="0" y="816" width="1641" height="18" fill="#f0f0f0"/>
<rect x="0" y="834" width="1641" height="1" fill="#fff"/>
<rect x="0" y="835" width="1641" height="3" fill="#f0f0f0"/>
<rect x="0" y="815" width="1" height="19" fill="#a0a0a0"/>
<rect x="1" y="815" width="1" height="18" fill="#696969"/>
<rect x="0" y="838" width="1641" height="1" fill="#a0a0a0"/>
<rect x="0" y="839" width="1641" height="1" fill="#fafafa"/>
<rect x="210" y="813" width="104" height="20" fill="#fff"/>
<rect x="210" y="814" width="1" height="19" fill="#000"/>
<rect x="313" y="814" width="1" height="19" fill="#000"/>
<rect x="210" y="832" width="104" height="1" fill="#000"/>
<rect x="211" y="812" width="102" height="1" fill="#e4e4e4"/>
<g shape-rendering="auto">
<text x="18.6" y="828.7" font-size="12.8" fill="#727272" stroke="#727272" stroke-width="0.25" textLength="79.4" lengthAdjust="spacingAndGlyphs">EURUSD,Daily</text>
<text x="120.3" y="828.7" font-size="12.8" fill="#727272" stroke="#727272" stroke-width="0.25" textLength="78.8" lengthAdjust="spacingAndGlyphs">USDCHF,Daily</text>
<text x="221.2" y="828.7" font-size="12.8" fill="#000" stroke="#000" stroke-width="0.25" textLength="81.9" lengthAdjust="spacingAndGlyphs">AUDUSD,Daily</text>
<text x="325" y="828.7" font-size="12.8" fill="#727272" stroke="#727272" stroke-width="0.25" textLength="81.2" lengthAdjust="spacingAndGlyphs">USDCAD,Daily</text>
<text x="428.2" y="828.7" font-size="12.8" fill="#727272" stroke="#727272" stroke-width="0.25" textLength="83.1" lengthAdjust="spacingAndGlyphs">USDCNH,Daily</text>
<text x="534.4" y="828.7" font-size="12.8" fill="#727272" stroke="#727272" stroke-width="0.25" textLength="80.1" lengthAdjust="spacingAndGlyphs">EURUSD,Daily</text>
<text x="638" y="828.7" font-size="12.8" fill="#727272" stroke="#727272" stroke-width="0.25" textLength="67.9" lengthAdjust="spacingAndGlyphs">GBPUSD,H4</text>
<text x="728.9" y="828.7" font-size="12.8" fill="#727272" stroke="#727272" stroke-width="0.25" textLength="69.1" lengthAdjust="spacingAndGlyphs">XAUUSD,H4</text>
<text x="821.8" y="828.7" font-size="12.8" fill="#727272" stroke="#727272" stroke-width="0.25" textLength="48.6" lengthAdjust="spacingAndGlyphs">HK50,H1</text>
<text x="893.4" y="828.7" font-size="12.8" fill="#727272" stroke="#727272" stroke-width="0.25" textLength="56.3" lengthAdjust="spacingAndGlyphs">UK100,H1</text>
<text x="973.5" y="828.7" font-size="12.8" fill="#727272" stroke="#727272" stroke-width="0.25" textLength="56.1" lengthAdjust="spacingAndGlyphs">UK100,H1</text>
<text x="1053.4" y="828.7" font-size="12.8" fill="#727272" stroke="#727272" stroke-width="0.25" textLength="56.3" lengthAdjust="spacingAndGlyphs">GER30,H1</text>
<text x="1132.2" y="828.7" font-size="12.8" fill="#727272" stroke="#727272" stroke-width="0.25" textLength="54.3" lengthAdjust="spacingAndGlyphs">FRA40,H1</text>
<text x="1208.7" y="828.7" font-size="12.8" fill="#727272" stroke="#727272" stroke-width="0.25" textLength="50.5" lengthAdjust="spacingAndGlyphs">USOil,H4</text>
<text x="1280.3" y="828.7" font-size="12.8" fill="#727272" stroke="#727272" stroke-width="0.25" textLength="62.6" lengthAdjust="spacingAndGlyphs">USDJPY,H1</text>
<text x="1364.6" y="828.7" font-size="12.8" fill="#727272" stroke="#727272" stroke-width="0.25" textLength="58.7" lengthAdjust="spacingAndGlyphs">DJ30,Daily</text>
<text x="1444" y="828.7" font-size="12.8" fill="#727272" stroke="#727272" stroke-width="0.25" textLength="78.7" lengthAdjust="spacingAndGlyphs">CHINA300,H1</text>
<text x="1544.3" y="828.7" font-size="12.8" fill="#727272" stroke="#727272" stroke-width="0.25" textLength="50.0" lengthAdjust="spacingAndGlyphs">USOil,H1</text>
</g>
<rect x="110" y="817" width="1" height="14" fill="#606060"/>
<rect x="418" y="817" width="1" height="14" fill="#606060"/>
<rect x="522" y="817" width="1" height="14" fill="#606060"/>
<rect x="626" y="817" width="1" height="14" fill="#606060"/>
<rect x="718" y="817" width="1" height="14" fill="#606060"/>
<rect x="810" y="817" width="1" height="14" fill="#606060"/>
<rect x="882" y="817" width="1" height="14" fill="#606060"/>
<rect x="962" y="817" width="1" height="14" fill="#606060"/>
<rect x="1042" y="817" width="1" height="14" fill="#606060"/>
<rect x="1122" y="817" width="1" height="14" fill="#606060"/>
<rect x="1198" y="817" width="1" height="14" fill="#606060"/>
<rect x="1270" y="817" width="1" height="14" fill="#606060"/>
<rect x="1354" y="817" width="1" height="14" fill="#606060"/>
<rect x="1434" y="817" width="1" height="14" fill="#606060"/>
<rect x="1534" y="817" width="1" height="14" fill="#606060"/>
<rect x="1606" y="817" width="1" height="14" fill="#606060"/>
<rect x="1615" y="820" width="1" height="6" fill="#999"/>
<rect x="1632" y="820" width="1" height="6" fill="#000"/>
<rect x="1614" y="821" width="1" height="4" fill="#999"/>
<rect x="1633" y="821" width="1" height="4" fill="#000"/>
<rect x="1613" y="822" width="1" height="2" fill="#999"/>
<rect x="1634" y="822" width="1" height="2" fill="#000"/>
</svg>
</body></html>
